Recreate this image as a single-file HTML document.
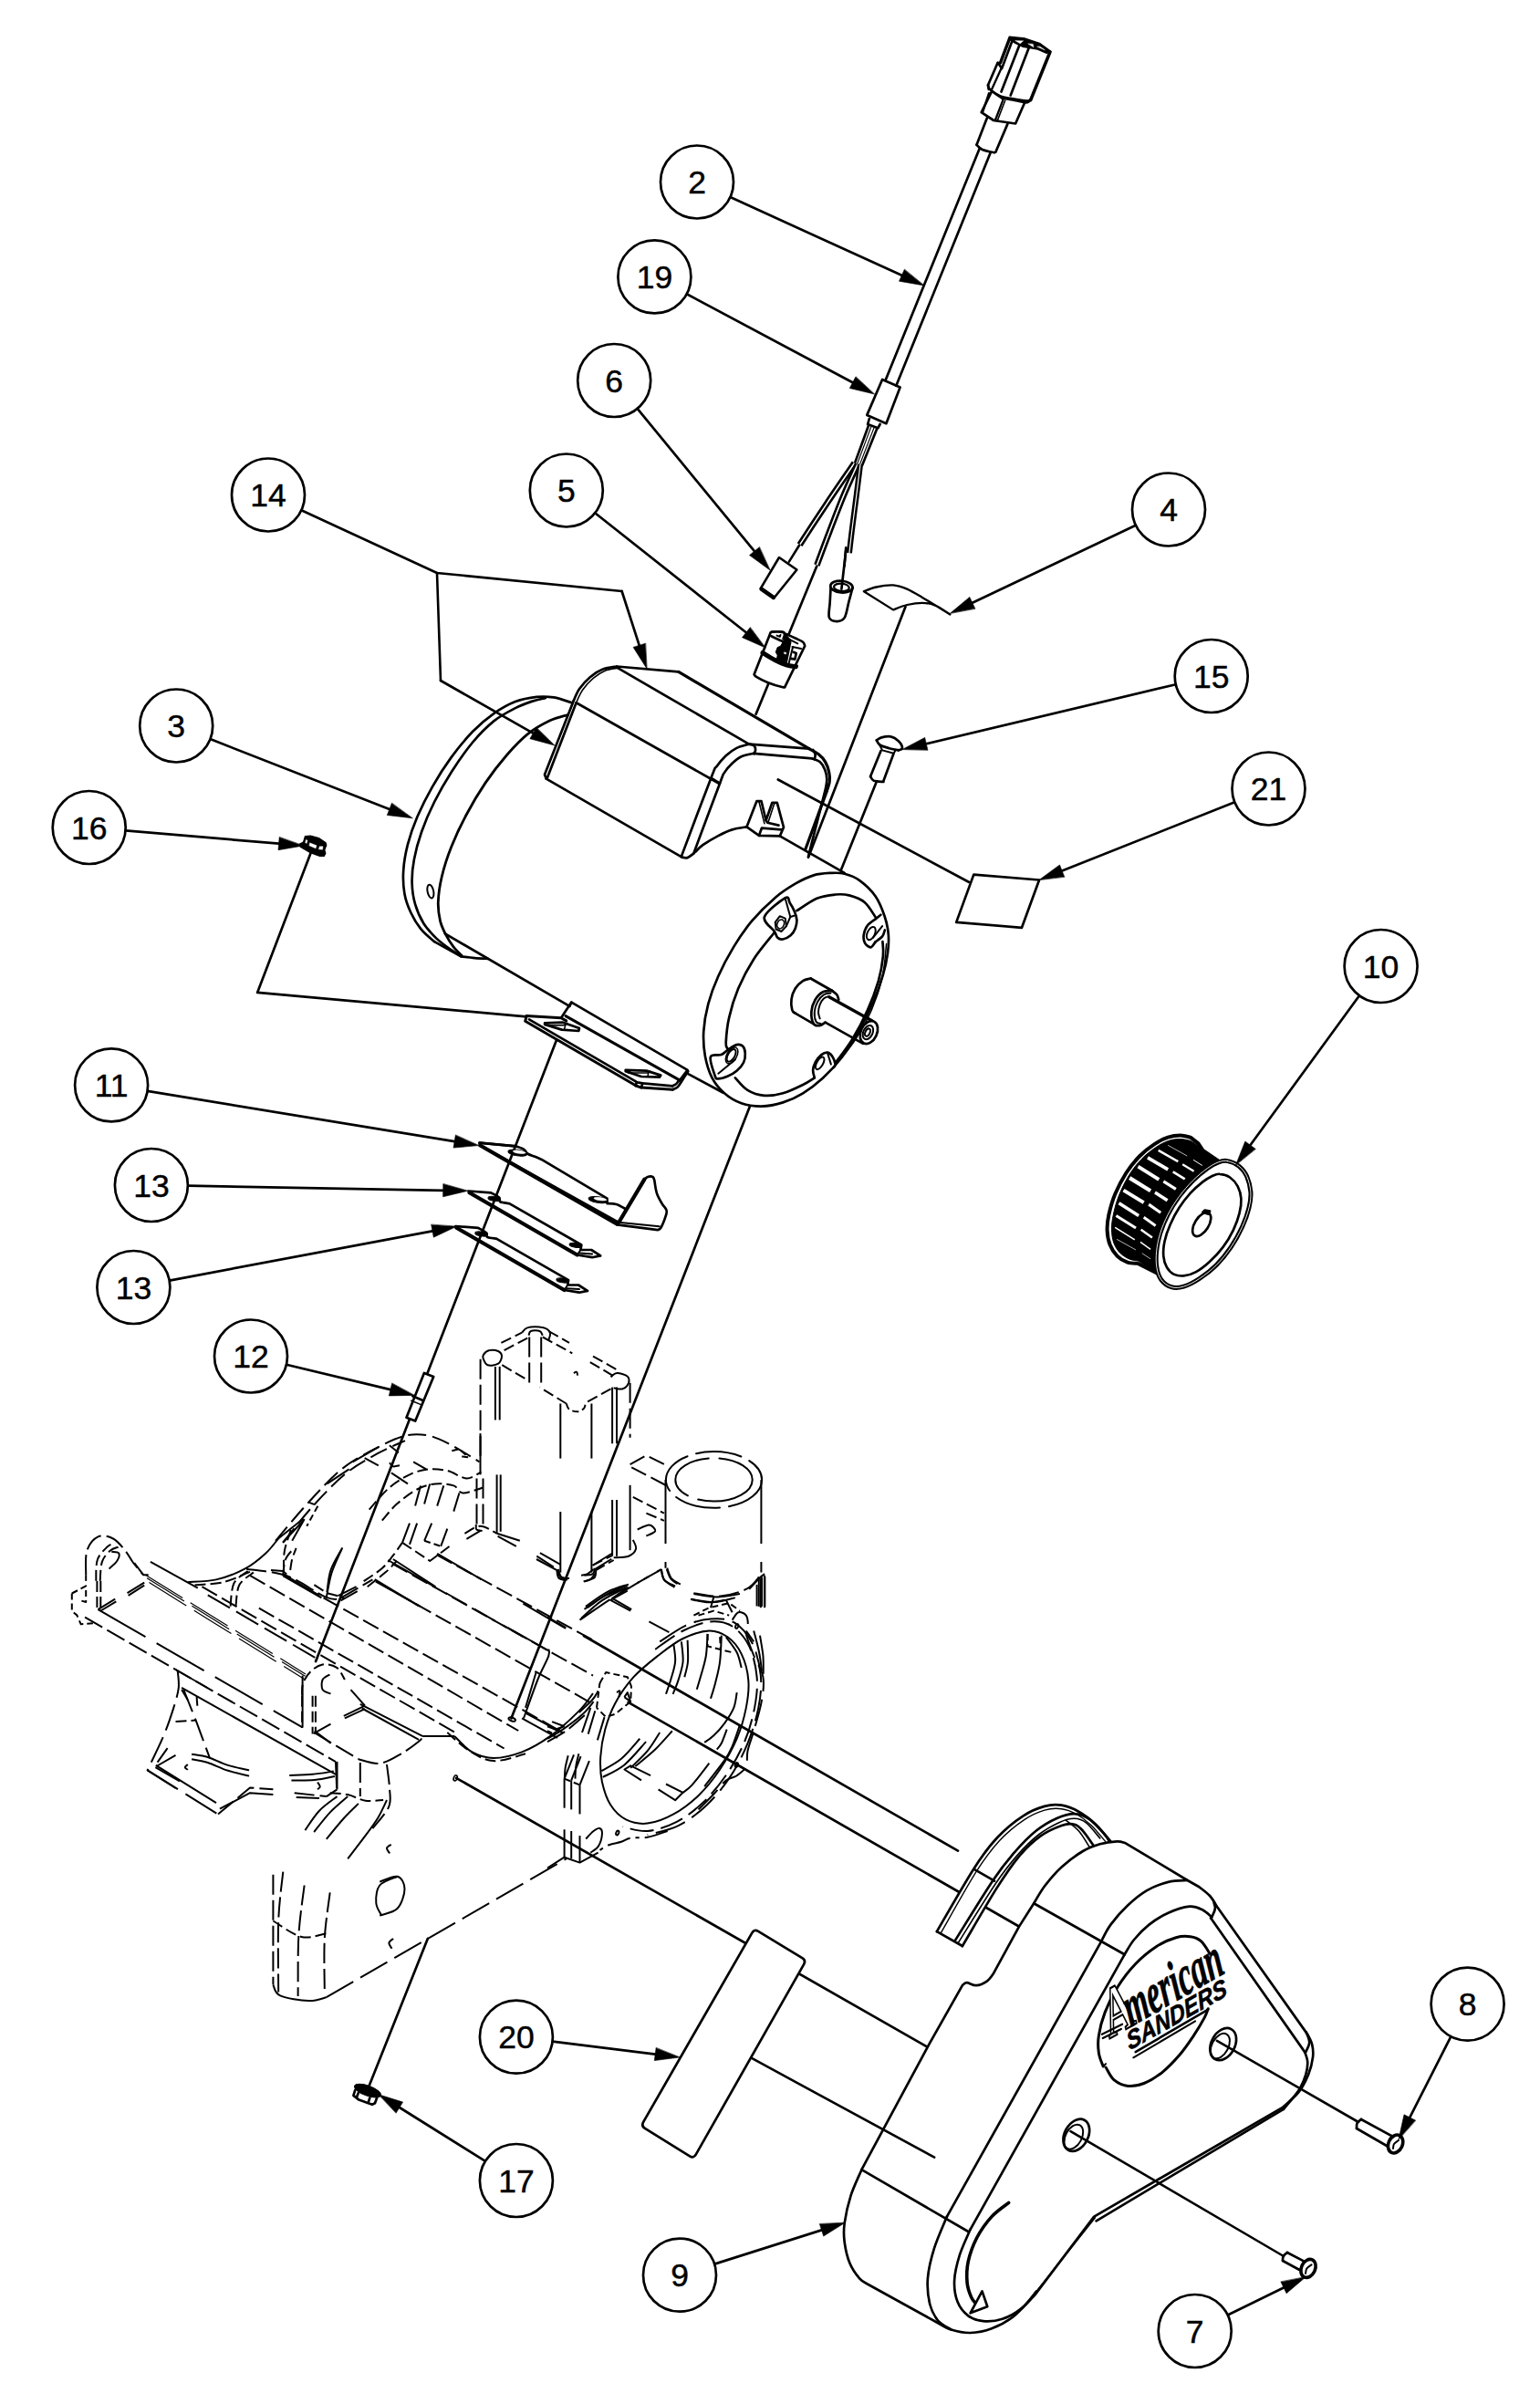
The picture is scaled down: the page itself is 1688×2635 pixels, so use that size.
<!DOCTYPE html>
<html><head><meta charset="utf-8"><title>Parts diagram</title>
<style>html,body{margin:0;padding:0;background:#fff}svg{display:block}text{font-family:"Liberation Sans",sans-serif;fill:#000;stroke:#000;stroke-width:0.45px}path,ellipse,circle{stroke-linecap:round;stroke-linejoin:round}</style></head>
<body>
<svg width="1688" height="2635" viewBox="0 0 1688 2635">
<rect width="1688" height="2635" fill="#fff"/>
<path d="M895.4 620.3 L828.6 782.7" fill="none" stroke="#000" stroke-width="2.7"/>
<path d="M992.5 665 L886 939.7" fill="none" stroke="#000" stroke-width="2.7"/>
<path d="M960.3 857.9 L921.5 954.4" fill="none" stroke="#000" stroke-width="2.7"/>
<path d="M821.9 1212.7 L560.4 1883.4" fill="none" stroke="#000" stroke-width="2.7"/>
<path d="M610 1140 L346.1 1821" fill="none" stroke="#000" stroke-width="2.7"/>
<path d="M340.3 935.7 L282.1 1087.9 L577.1 1114.3" fill="none" stroke="#000" stroke-width="2.7"/>
<path d="M852.8 854.5 L1061.8 966.8" fill="none" stroke="#000" stroke-width="2.7"/>
<path d="M639.9 1793 L1050 2028.7" fill="none" stroke="#000" stroke-width="2.7"/>
<path d="M688.6 1865.8 L1117.7 2112" fill="none" stroke="#000" stroke-width="2.7"/>
<path d="M500 1948.8 L1016.4 2243.6" fill="none" stroke="#000" stroke-width="2.7"/>
<path d="M468.8 2125 L403.4 2289.3" fill="none" stroke="#000" stroke-width="2.7"/>
<path d="M1106.4 40.3 L1123.5 42.1 L1140.1 47.8 L1151.8 56.4 L1147.2 58.2 L1137.5 54.1 L1121.4 51.2 L1112.1 46.8 L1107.1 43.7Z" fill="#000" stroke="#000" stroke-width="1.5"/>
<path d="M1113.1 44.7 L1118.3 47.8 L1121.4 44.9Z" fill="#fff" stroke="#fff" stroke-width="0.5"/>
<path d="M1127.1 48.1 L1132.9 51.7 L1132.3 48.6Z" fill="#fff" stroke="#fff" stroke-width="0.5"/>
<path d="M1137 51.2 L1145.3 54.8 L1140.1 51.2Z" fill="#fff" stroke="#fff" stroke-width="0.5"/>
<path d="M1106.7 41.8 L1096.5 68.8" fill="none" stroke="#000" stroke-width="3.4"/>
<path d="M1109 46 L1098.1 75.1 L1093.9 68.8" fill="none" stroke="#000" stroke-width="2.7"/>
<path d="M1151 56.9 L1129.7 109.6" fill="none" stroke="#000" stroke-width="3.6"/>
<path d="M1093.6 68.8 L1083 93.2 L1083.8 97.9" fill="none" stroke="#000" stroke-width="2.7"/>
<path d="M1097.5 75.1 L1086.6 99" fill="none" stroke="#000" stroke-width="2.3"/>
<path d="M1083 93.2 C1083.3 94.1 1082.8 96.1 1085.1 98.1 C1087.3 100.2 1092.5 103.7 1096.5 105.4 C1100.5 107.1 1104.1 107.2 1109 108.1 C1113.8 109 1122.1 110.4 1125.6 110.6 C1129.1 110.8 1129.2 109.4 1129.9 109.1" fill="none" stroke="#000" stroke-width="2.7"/>
<path d="M1086.9 99.5 C1088.7 100.7 1093.7 105.4 1097.5 107.1 C1101.4 108.7 1105.6 108.7 1110 109.6 C1114.4 110.5 1121 112.2 1124 112.5 C1127.1 112.7 1127.5 111.4 1128.2 111.2" fill="none" stroke="#000" stroke-width="2.3"/>
<path d="M1117.5 49.3 L1097.5 100.5" fill="none" stroke="#000" stroke-width="2.7"/>
<path d="M1127.7 52.4 L1107.7 104.4" fill="none" stroke="#000" stroke-width="2.7"/>
<path d="M1086.9 100.5 L1075.7 123.1 L1089.2 132 L1113.1 135.5 L1122.7 113.5" fill="none" stroke="#000" stroke-width="2.7"/>
<path d="M1084 102.1 L1077.3 122.3" fill="none" stroke="#000" stroke-width="2.3"/>
<path d="M1099.4 109.6 L1090.8 132" fill="none" stroke="#000" stroke-width="2.3"/>
<path d="M1101.7 110.2 L1093.2 132.4" fill="none" stroke="#000" stroke-width="1.6"/>
<path d="M1097.5 107.1 L1099.4 109.6" fill="none" stroke="#000" stroke-width="1.6"/>
<path d="M1081.9 129.3 L1070.5 158.7" fill="none" stroke="#000" stroke-width="2.7"/>
<path d="M1070.5 158.7 C1071.6 159.6 1073.5 162.5 1076.8 163.9 C1080 165.3 1087.8 166.8 1090.1 167.3" fill="none" stroke="#000" stroke-width="2.7"/>
<path d="M1104.4 135.9 L1091.3 166.7" fill="none" stroke="#000" stroke-width="2.7"/>
<path d="M1073.6 162.9 L970.5 416.9" fill="none" stroke="#000" stroke-width="2.7"/>
<path d="M1085.6 167.5 L982.3 422.8" fill="none" stroke="#000" stroke-width="2.7"/>
<path d="M967.1 416 L986.6 424.5 L971.4 464.2 L950.3 454.9Z" fill="none" stroke="#000" stroke-width="2.7"/>
<path d="M952.8 459.1 L951.1 465 L962.4 469.2 L964.6 465" fill="none" stroke="#000" stroke-width="2.7"/>
<path d="M951.9 466.7 L936.8 508.1" fill="none" stroke="#000" stroke-width="2.7"/>
<path d="M961.2 470.1 L945.2 509.7" fill="none" stroke="#000" stroke-width="2.7"/>
<path d="M954.8 467.9 L939.5 508.9" fill="none" stroke="#000" stroke-width="1.2"/>
<path d="M958 468.9 L942.3 509.4" fill="none" stroke="#000" stroke-width="1.2"/>
<path d="M936.6 507.5 C931.6 514.9 916.5 536.6 906.5 551.6 C896.5 566.5 881.5 589.5 876.6 597.1" fill="none" stroke="#000" stroke-width="6.8" style="stroke-linecap:butt"/>
<path d="M936.6 507.5 C931.6 514.9 916.5 536.6 906.5 551.6 C896.5 566.5 881.5 589.5 876.6 597.1" fill="none" stroke="#fff" stroke-width="1.6" style="stroke-linecap:butt"/>
<path d="M876.2 597.5 L864.9 615.6" fill="none" stroke="#000" stroke-width="2.6"/>
<path d="M940 508.8 C937.5 514.5 930 530.4 924.9 542.6 C919.8 554.8 914.3 569.4 909.4 582.2 C904.4 595 897.7 613.3 895.4 619.5" fill="none" stroke="#000" stroke-width="6.8" style="stroke-linecap:butt"/>
<path d="M940 508.8 C937.5 514.5 930 530.4 924.9 542.6 C919.8 554.8 914.3 569.4 909.4 582.2 C904.4 595 897.7 613.3 895.4 619.5" fill="none" stroke="#fff" stroke-width="1.6" style="stroke-linecap:butt"/>
<path d="M943 508.8 C942.3 514.4 940.3 531 938.9 541.9 C937.5 552.9 936 563.7 934.7 574.4 C933.3 585.1 931.5 600.9 930.9 606.2" fill="none" stroke="#000" stroke-width="6.2" style="stroke-linecap:butt"/>
<path d="M943 508.8 C942.3 514.4 940.3 531 938.9 541.9 C937.5 552.9 936 563.7 934.7 574.4 C933.3 585.1 931.5 600.9 930.9 606.2" fill="none" stroke="#fff" stroke-width="1.2" style="stroke-linecap:butt"/>
<path d="M927.2 600.4 L925.6 620.5" fill="none" stroke="#000" stroke-width="2.6"/>
<path d="M927.5 600.9 L922.4 645.6" fill="none" stroke="#000" stroke-width="2.7"/>
<path d="M854 611 L873.4 624.5 L848.1 655.8 L833.8 644.8Z" fill="#fff" stroke="#000" stroke-width="2.6"/>
<path d="M834.6 645.6 L847.8 654.9" fill="none" stroke="#000" stroke-width="4.5"/>
<ellipse cx="922.4" cy="643.1" rx="12.2" ry="6.4" fill="none" stroke="#000" stroke-width="2.7" transform="rotate(5 922.4 643.1)"/>
<ellipse cx="922.4" cy="643.8" rx="8.4" ry="4.2" fill="none" stroke="#000" stroke-width="2.3" transform="rotate(5 922.4 643.8)"/>
<path d="M910.6 644 C910.4 646.6 910 654.5 909.7 660 C909.5 665.5 907.6 673.4 908.9 676.9 C910.2 680.4 914.5 681.1 917.3 681.1 C920.2 681.1 923.6 680.4 925.8 676.9 C927.9 673.4 928.9 665.5 930.3 660 C931.8 654.5 933.9 646.6 934.6 644" fill="none" stroke="#000" stroke-width="2.7"/>
<path d="M946.9 648.2 C949.1 647.4 955 644.6 960.4 643.5 C965.7 642.3 973.3 641.1 979 641.4 C984.6 641.8 988.8 643.4 994.2 645.6 C999.5 647.9 1003.2 650.3 1011 654.9 C1018.9 659.6 1036.4 670.4 1041.4 673.5 L1041.4 673.5 C1038.6 671.8 1029.6 665.5 1024.5 663.4 C1019.5 661.3 1016.1 660.9 1011 660.8 C1006 660.8 999.5 661.8 994.2 663 C988.8 664.3 981.5 667.5 979 668.4 L946.9 648.2Z" fill="#fff" stroke="#000" stroke-width="2.3"/>
<path d="M626.9 770.3 C623.6 769.3 613.4 765.5 607 764.4 C600.6 763.4 595.3 763.2 588.3 763.9 C581.3 764.7 572.7 766.1 564.9 769.1 C557.1 772.1 549.4 776.5 541.6 781.9 C533.8 787.4 526 793.8 518.2 801.8 C510.4 809.8 502.2 819.7 494.8 829.9 C487.4 840 480 851.7 473.8 862.6 C467.5 873.5 461.9 884.8 457.4 895.3 C452.9 905.8 449.4 916 446.9 925.7 C444.4 935.5 442.8 944.8 442.2 953.8 C441.6 962.7 442 971.7 443.4 979.5 C444.7 987.3 447.3 993.9 450.4 1000.5 C453.5 1007.1 457.8 1014 462.1 1019.2 C466.4 1024.5 473.8 1029.9 476.1 1032.1" fill="none" stroke="#000" stroke-width="2.7"/>
<path d="M476.1 1032.1 L505.3 1048.4" fill="none" stroke="#000" stroke-width="2.7"/>
<path d="M505.3 1048.4 C507.9 1048.7 515.6 1049.7 520.5 1050.1 C525.4 1050.5 532.2 1050.7 534.5 1050.8" fill="none" stroke="#000" stroke-width="2.7"/>
<path d="M597.7 765.1 C595.3 765.7 589.1 766.8 583.6 768.6 C578.2 770.5 571.9 772.5 564.9 776.1 C557.9 779.7 549.4 783.9 541.6 790.1 C533.8 796.4 526 804.2 518.2 813.5 C510.4 822.9 501.8 835.3 494.8 846.2 C487.8 857.1 481.6 868.1 476.1 879 C470.6 889.9 465.8 901.2 462.1 911.7 C458.4 922.2 455.6 932.7 453.9 942.1 C452.1 951.4 451.4 959.6 451.6 967.8 C451.8 976 452.9 983.8 455.1 991.2 C457.2 998.6 460.5 1006 464.4 1012.2 C468.3 1018.4 473.4 1023.7 478.4 1028.6 C483.5 1033.4 490.3 1038.2 494.8 1041.4 C499.3 1044.6 503.6 1046.7 505.3 1047.7" fill="none" stroke="#000" stroke-width="2.7"/>
<path d="M622.2 783.6 C618.9 784.7 609.5 786.7 602.3 790.1 C595.1 793.6 586.8 797.9 579 804.2 C571.2 810.4 563.4 818.6 555.6 827.5 C547.8 836.5 539.6 847 532.2 857.9 C524.8 868.8 517.4 881.3 511.2 893 C504.9 904.7 499.3 916.8 494.8 928.1 C490.3 939.4 486.7 950.6 484.3 960.8 C481.9 970.9 480.6 980.6 480.3 988.8 C480 997 481.2 1003.8 482.6 1009.9 C484.1 1015.9 486.5 1020.4 489 1025.1 C491.4 1029.7 494.3 1034.2 497.1 1037.9 C500 1041.6 504.5 1045.7 506 1047.3" fill="none" stroke="#000" stroke-width="2.8"/>
<ellipse cx="471.9" cy="977.1" rx="3.3" ry="7.5" fill="none" stroke="#000" stroke-width="2" transform="rotate(-12 471.9 977.1)"/>
<path d="M487.8 1023.4 L624.3 1102.9" fill="none" stroke="#000" stroke-width="2.7"/>
<path d="M754.3 1177.1 L792.3 1197.5" fill="none" stroke="#000" stroke-width="2.7"/>
<path d="M854.8 916.4 L925.7 956.9" fill="none" stroke="#000" stroke-width="2.7"/>
<path d="M628.8 767.9 L597 849 L598.8 853.7" fill="none" stroke="#000" stroke-width="2.7"/>
<path d="M631.6 770.3 L600 852.3" fill="none" stroke="#000" stroke-width="2.7"/>
<path d="M628.8 767.9 C629.8 765.8 632.1 759.4 635.1 755.1 C638.1 750.8 642.5 745.8 646.8 742.2 C651 738.6 655.9 735.5 660.8 733.6 C665.6 731.6 673.4 731 676 730.5" fill="none" stroke="#000" stroke-width="2.7"/>
<path d="M631.6 770.3 C632.7 767.9 635.5 760.7 638.6 756.2 C641.7 751.8 646.2 746.9 650.3 743.4 C654.4 739.9 658.6 737.1 663.1 735.2 C667.6 733.3 674.8 732.7 677.1 732.2" fill="none" stroke="#000" stroke-width="1.6"/>
<path d="M676 730.5 L743.8 736.4" fill="none" stroke="#000" stroke-width="2.7"/>
<path d="M743.8 736.4 L886.9 820.7" fill="none" stroke="#000" stroke-width="3.2"/>
<path d="M886.9 820.7 C888.6 821.7 894.1 824.2 897 826.6 C900 829 902.6 831.7 904.6 835.1 C906.6 838.4 908.1 843.2 908.8 846.9 C909.6 850.5 909.6 853.6 909.2 857 C908.7 860.4 906.8 865.5 906.3 867.1" fill="none" stroke="#000" stroke-width="3.2"/>
<path d="M906.3 867.1 L882.7 931.3" fill="none" stroke="#000" stroke-width="3.2"/>
<path d="M677.1 732.2 L821 815.6" fill="none" stroke="#000" stroke-width="2.7"/>
<path d="M631.6 770.3 L788.1 858.7" fill="none" stroke="#000" stroke-width="2.7"/>
<path d="M598.8 853.7 L747.6 939.7" fill="none" stroke="#000" stroke-width="2.7"/>
<path d="M746.8 938.9 C752.2 924.4 773.2 868.4 779.7 851.9 C786.1 835.5 782.9 844.1 785.6 840.1 C788.3 836.2 792.1 831.7 795.7 828.3 C799.4 824.9 803.3 822 807.5 819.9 C811.8 817.8 818.8 816.4 821 815.6" fill="none" stroke="#000" stroke-width="2.7"/>
<path d="M821 815.6 L886.9 820.7" fill="none" stroke="#000" stroke-width="2.7"/>
<path d="M760.3 935.5 C765 922.7 783.3 873.5 789 858.7 C794.6 843.9 791.8 850.5 794 846.9 C796.3 843.2 799.4 839.7 802.5 836.8 C805.6 833.8 808.7 831 812.6 829.2 C816.5 827.3 823.9 826.3 826.1 825.8" fill="none" stroke="#000" stroke-width="2.7"/>
<path d="M826.1 825.8 L890.3 831.4" fill="none" stroke="#000" stroke-width="2.7"/>
<path d="M890.3 831.4 C891.7 832 896.4 833 898.7 835.1 C901 837.1 902.8 840.4 904.1 843.5 C905.4 846.6 906.1 850.3 906.3 853.6 C906.5 857 905.3 862.1 905.1 863.8" fill="none" stroke="#000" stroke-width="2.7"/>
<path d="M905.1 863.8 L886 938.9" fill="none" stroke="#000" stroke-width="2.7"/>
<path d="M821 815.6 C821.9 815.9 825.3 816.3 826.4 817.3 C827.6 818.4 828.1 820.4 828.1 821.9 C828.1 823.4 826.7 825.6 826.4 826.3" fill="none" stroke="#000" stroke-width="2.7"/>
<path d="M891.1 821.9 C891.5 822.7 893.4 825.2 893.6 827 C893.9 828.7 892.9 831.6 892.8 832.5" fill="none" stroke="#000" stroke-width="2.7"/>
<path d="M779.7 852.8 L789 858.7" fill="none" stroke="#000" stroke-width="2.7"/>
<path d="M747.6 939.7 C748.6 939.8 751.4 940.8 753.5 940.1 C755.6 939.4 757.4 937.8 760.3 935.5 C763.1 933.2 765.9 929.5 770.4 926.2 C774.9 923 781.9 918.9 787.3 916.1 C792.6 913.3 797.3 911 802.5 909.4 C807.7 907.7 815.8 906.8 818.5 906.3" fill="none" stroke="#000" stroke-width="2.7"/>
<path d="M818.5 906.3 L832 915.8 L854.8 916.4 L859 906.8 L851.8 879.8 L846.4 879.8 L839.6 899.2 L834.5 878.1 L829.5 878.1Z" fill="none" stroke="#000" stroke-width="2.7"/>
<path d="M832 915.8 L834.9 907.7 L856.8 909.4" fill="none" stroke="#000" stroke-width="2.7"/>
<path d="M839.6 899.2 L841.3 901.8 L853.5 904.6" fill="none" stroke="#000" stroke-width="2.7"/>
<path d="M832 879 L837.9 902.6" fill="none" stroke="#000" stroke-width="1.6"/>
<path d="M848.9 880.3 L842.1 900.9" fill="none" stroke="#000" stroke-width="1.6"/>
<path d="M910.5 956.9 C904.9 957.2 898.4 957.4 891.9 959.4 C885.5 961.4 878.7 964.6 871.7 968.7 C864.7 972.8 857.6 977.1 849.7 983.9 C841.9 990.6 832 1000.2 824.4 1009.2 C816.8 1018.2 810.3 1027.8 804.2 1037.9 C798 1048.1 791.9 1059.6 787.3 1070 C782.6 1080.4 779 1090.3 776.3 1100.4 C773.6 1110.5 771.8 1121.2 771.2 1130.8 C770.7 1140.3 771.4 1149.4 772.9 1157.8 C774.5 1166.2 777 1174.7 780.5 1181.4 C784 1188.2 788.7 1193.7 794 1198.3 C799.4 1203 805.8 1206.9 812.6 1209.3 C819.4 1211.7 826.9 1212.8 834.5 1212.7 C842.1 1212.5 850.6 1210.8 858.2 1208.4 C865.8 1206 872.8 1202.8 880.1 1198.3 C887.4 1193.8 895 1187.9 902.1 1181.4 C909.1 1175 915.9 1167.9 922.3 1159.5 C928.8 1151 935 1141.2 940.9 1130.8 C946.8 1120.4 953.3 1107.4 957.8 1097 C962.3 1086.6 965.4 1077 967.9 1068.3 C970.5 1059.6 972 1052 973 1044.7 C974 1037.4 974.4 1031.2 973.8 1024.4 C973.3 1017.7 972 1011.2 969.6 1004.2 C967.2 997.1 964 988.7 959.5 982.2 C955 975.7 948.2 969.4 942.6 965.3 C937 961.2 931.1 959.1 925.7 957.7 C920.4 956.3 916.1 956.6 910.5 956.9Z" fill="#fff" stroke="#000" stroke-width="2.7"/>
<path d="M959.5 1005 C957.5 1002.3 952.4 992.9 947.7 989 C942.9 985 936.1 982.8 930.8 981.4 C925.4 980 921.5 980 915.6 980.5 C909.7 981.1 902.4 981.8 895.3 984.7 C888.3 987.7 877 996 873.4 998.2" fill="none" stroke="#000" stroke-width="2.7"/>
<path d="M849.7 1021 C845.8 1026.1 832.9 1041 826.1 1051.4 C819.4 1061.8 813.7 1072.8 809.2 1083.5 C804.7 1094.2 801.3 1105.7 799.1 1115.6 C796.8 1125.4 796 1137 795.7 1142.6 C795.4 1148.2 797.1 1148.2 797.4 1149.4" fill="none" stroke="#000" stroke-width="2.7"/>
<path d="M805.8 1181.4 C808.1 1183.7 814 1191.7 819.4 1194.9 C824.7 1198.2 831.5 1200.3 837.9 1200.8 C844.4 1201.4 851.1 1200.3 858.2 1198.3 C865.2 1196.3 874.4 1191.8 880.1 1189 C885.9 1186.2 890.7 1182.7 892.8 1181.4" fill="none" stroke="#000" stroke-width="2.7"/>
<path d="M915.6 1165.4 C918.7 1161 928.2 1148.9 934.2 1139.2 C940.1 1129.5 946.3 1117.8 951 1107.1 C955.8 1096.5 960 1084.9 962.9 1075.1 C965.7 1065.2 967.2 1055.2 967.9 1048.1 C968.7 1040.9 967.5 1034.7 967.4 1032" fill="none" stroke="#000" stroke-width="2.7"/>
<path d="M971.6 1034.5 C970.9 1040.7 969.8 1059.6 967.1 1071.7 C964.3 1083.8 960.3 1095.6 955.3 1107.1 C950.2 1118.7 943 1131.2 936.7 1140.9 C930.4 1150.6 920.5 1161.3 917.3 1165.4" fill="none" stroke="#000" stroke-width="1.5"/>
<path d="M837.9 1005 C839.9 998.9 856.1 986.8 860.7 984.2 C865.4 981.7 864.1 987.3 865.8 989.8 C867.5 992.3 869.6 996 870.8 999.1 C872.1 1002.2 873.2 1005.3 873.4 1008.4 C873.5 1011.5 872.8 1014.8 871.7 1017.7 C870.6 1020.5 868.9 1023.3 866.6 1025.3 C864.4 1027.2 860.6 1029.1 858.2 1029.5 C855.8 1029.9 853.8 1029.2 852.3 1027.8 C850.7 1026.4 851.3 1024.8 848.9 1021 C846.5 1017.2 836 1011.1 837.9 1005Z" fill="#fff" stroke="#000" stroke-width="2.7"/>
<path d="M849.7 1010.9 L854.8 1004.2 L860.7 1006.7 L861.9 1015.1 L856.5 1021 L850.6 1018.5Z" fill="none" stroke="#000" stroke-width="2"/>
<path d="M860.7 984.7 L866.3 1005 L861.9 1015.1" fill="none" stroke="#000" stroke-width="2"/>
<path d="M866.3 1005 L870.3 1003.8" fill="none" stroke="#000" stroke-width="2"/>
<ellipse cx="855.6" cy="1012.9" rx="3.7" ry="5.1" fill="none" stroke="#000" stroke-width="1.6" transform="rotate(20 855.6 1012.9)"/>
<path d="M959.5 1007.5 C958.1 1008.7 953.1 1011.5 951 1014.3 C948.9 1017.1 947.3 1021.2 946.8 1024.4 C946.3 1027.7 946.7 1031.4 948 1033.7 C949.3 1036 952.5 1038.5 954.4 1038.3 C956.3 1038.1 958.6 1033.5 959.5 1032.5" fill="none" stroke="#000" stroke-width="2.7"/>
<path d="M959.5 1007.5 L965.4 1002.8" fill="none" stroke="#000" stroke-width="2.7"/>
<path d="M959.5 1032.5 C960.7 1031.5 965.3 1028.6 967.1 1026.4 C968.8 1024.2 969.5 1020.5 969.9 1019.4" fill="none" stroke="#000" stroke-width="2.7"/>
<ellipse cx="954.8" cy="1023.1" rx="4.1" ry="7.6" fill="none" stroke="#000" stroke-width="2" transform="rotate(25 954.8 1023.1)"/>
<path d="M956.9 1027.8 L967.1 1015.1" fill="none" stroke="#000" stroke-width="2"/>
<path d="M778.8 1158.6 C780 1154.7 787.6 1157.4 790.6 1156.1 C793.7 1154.8 794.6 1152.9 797.4 1151 C800.2 1149.2 804.7 1145.8 807.5 1145.1 C810.3 1144.4 812.7 1145.3 814.3 1146.8 C815.8 1148.4 816.7 1151.5 816.8 1154.4 C817 1157.4 816.7 1161.3 815.1 1164.5 C813.6 1167.8 810.5 1171.3 807.5 1173.8 C804.6 1176.4 800.8 1178.3 797.4 1179.7 C794 1181.1 789.5 1182.3 787.3 1182.3 C785 1182.3 785.3 1183.7 783.9 1179.7 C782.5 1175.8 777.7 1162.6 778.8 1158.6Z" fill="#fff" stroke="#000" stroke-width="2.7"/>
<ellipse cx="801.6" cy="1156.9" rx="3.7" ry="7.6" fill="none" stroke="#000" stroke-width="2" transform="rotate(30 801.6 1156.9)"/>
<ellipse cx="802.1" cy="1156.9" rx="5.4" ry="9.8" fill="none" stroke="#000" stroke-width="1.6" transform="rotate(30 802.1 1156.9)"/>
<path d="M787.3 1176.7 L805.8 1161.5" fill="none" stroke="#000" stroke-width="2"/>
<path d="M892.8 1181.4 C892.5 1180 891 1175.8 891.1 1173 C891.2 1170.2 892.1 1167.4 893.6 1164.5 C895.2 1161.7 898.1 1157.9 900.4 1156.1 C902.6 1154.3 905.2 1153.3 907.1 1153.6 C909.1 1153.9 910.8 1155.7 912.2 1157.8 C913.6 1159.9 915.3 1164.2 915.6 1166.2 C915.9 1168.3 914.2 1169.3 913.9 1169.9" fill="none" stroke="#000" stroke-width="2.7"/>
<ellipse cx="898.7" cy="1165.4" rx="3.4" ry="7.6" fill="none" stroke="#000" stroke-width="2" transform="rotate(30 898.7 1165.4)"/>
<path d="M907.1 1154.4 L910.9 1166.6" fill="none" stroke="#000" stroke-width="2"/>
<path d="M888.6 1072.5 C887.2 1073 882.9 1073.2 880.1 1075.1 C877.3 1076.9 873.8 1080.1 871.7 1083.5 C869.6 1086.9 868 1091.4 867.5 1095.3 C866.9 1099.3 867.6 1104.6 868.3 1107.1 C869 1109.7 871.1 1110 871.7 1110.5" fill="none" stroke="#000" stroke-width="2.7"/>
<path d="M888.6 1072.5 L912.2 1086" fill="none" stroke="#000" stroke-width="3"/>
<path d="M870 1109.7 L891.9 1122.3" fill="none" stroke="#000" stroke-width="2.7"/>
<path d="M912.2 1086 C910.5 1086.2 905.2 1085.6 902.1 1087.2 C899 1088.8 895.7 1092.1 893.6 1095.7 C891.5 1099.3 889.7 1104.4 889.4 1108.8 C889.1 1113.3 890.4 1119.8 891.9 1122.3 C893.5 1124.9 896.6 1124.3 898.7 1124 C900.8 1123.7 903.6 1121.2 904.6 1120.6" fill="none" stroke="#000" stroke-width="2.7"/>
<path d="M910.5 1088.6 C909.3 1088.9 905.3 1088.7 902.9 1090.3 C900.5 1091.8 897.9 1094.8 896.2 1097.9 C894.5 1101 893.1 1105.2 892.8 1108.8 C892.5 1112.5 893.4 1117.6 894.5 1119.8 C895.6 1122 898.7 1121.6 899.5 1122" fill="none" stroke="#000" stroke-width="2"/>
<path d="M908.8 1091.9 C907.8 1092.4 904.6 1092.9 902.9 1094.5 C901.2 1096 899.7 1098.7 898.7 1101.2 C897.7 1103.8 897 1107.1 897 1109.7 C897 1112.2 898.4 1115.3 898.7 1116.4" fill="none" stroke="#000" stroke-width="2"/>
<path d="M912.2 1086 C913.1 1086.7 916.1 1088.7 917.3 1090.3 C918.5 1091.9 919 1094.8 919.3 1095.7" fill="none" stroke="#000" stroke-width="2.7"/>
<path d="M908.8 1092.8 L956.1 1119" fill="none" stroke="#000" stroke-width="3.4"/>
<path d="M904.6 1120.6 L946 1143.9" fill="none" stroke="#000" stroke-width="2.7"/>
<ellipse cx="952.4" cy="1131.6" rx="8.8" ry="13.2" fill="#fff" stroke="#000" stroke-width="2.7" transform="rotate(25 952.4 1131.6)"/>
<ellipse cx="951.4" cy="1131.6" rx="5.1" ry="8.1" fill="none" stroke="#000" stroke-width="2" transform="rotate(25 951.4 1131.6)"/>
<ellipse cx="951" cy="1131.6" rx="2.5" ry="4.4" fill="none" stroke="#000" stroke-width="2" transform="rotate(25 951 1131.6)"/>
<path d="M624.3 1102.9 L626.4 1098.6 L753.6 1172.9 L744.3 1185" fill="none" stroke="#000" stroke-width="2.7"/>
<path d="M626.4 1098.6 L615 1115.7" fill="none" stroke="#000" stroke-width="2.7"/>
<path d="M620 1113.6 L744.3 1183.6" fill="none" stroke="#000" stroke-width="3"/>
<path d="M577.1 1113.6 L615 1115.7 L620.7 1118.9" fill="none" stroke="#000" stroke-width="3"/>
<path d="M577.1 1113.6 L575.7 1119.3 L697.1 1190 L702.9 1192.1 L737.1 1194.3" fill="none" stroke="#000" stroke-width="3"/>
<path d="M737.1 1194.3 C738.1 1193.8 741 1193.3 742.9 1191.4 C744.8 1189.5 746.7 1185.7 748.6 1182.9 C750.5 1180 753.3 1175.7 754.3 1174.3" fill="none" stroke="#000" stroke-width="2.7"/>
<path d="M580 1117.4 L698.6 1186.4 L704.3 1187.4 L737.1 1190.3" fill="none" stroke="#000" stroke-width="2.7"/>
<path d="M737.1 1190.3 C737.9 1189.9 740.2 1189 741.4 1187.9 C742.6 1186.7 743.8 1184.3 744.3 1183.6" fill="none" stroke="#000" stroke-width="2.7"/>
<path d="M697.9 1186.4 L696.4 1190" fill="none" stroke="#000" stroke-width="2.7"/>
<path d="M704.3 1187.4 L702.9 1192.1" fill="none" stroke="#000" stroke-width="2.7"/>
<path d="M597.1 1121.4 L617.1 1120.7 L635 1127.1 L634.3 1130 L615.7 1128.6 L597.1 1122.9Z" fill="none" stroke="#000" stroke-width="2.7"/>
<path d="M600 1124 L618.6 1123.6 L621.4 1121.4" fill="none" stroke="#000" stroke-width="1.6"/>
<path d="M618.6 1127.9 L620 1122.9" fill="none" stroke="#000" stroke-width="1.6"/>
<path d="M685.7 1172.9 L708.6 1173.6 L724.3 1178.6 L722.9 1180.7 L702.9 1180 L685.7 1174.3Z" fill="none" stroke="#000" stroke-width="2.7"/>
<path d="M688.6 1176 L710 1176 L712.9 1174.3" fill="none" stroke="#000" stroke-width="1.6"/>
<path d="M710 1180 L710.7 1176" fill="none" stroke="#000" stroke-width="1.6"/>
<path d="M525.5 1252.7 L565.5 1256.4" fill="none" stroke="#000" stroke-width="2.7"/>
<path d="M525.5 1252.7 L565.5 1256.4 L565.5 1256.4 C567 1257 572.4 1258.6 574.5 1260 C576.7 1261.4 576.2 1263.2 578.2 1264.5 C580.2 1265.8 583.8 1266.8 586.4 1267.8 C588.9 1268.9 592.4 1270.4 593.6 1270.9 L665.5 1313.6 L665.5 1319.1 L665.5 1319.1 C667.1 1319.2 672 1318.9 675.5 1320 C678.9 1321.1 684.5 1324.5 686.4 1325.5 L678.2 1340 L526.4 1255.5Z" fill="none" stroke="#000" stroke-width="2.7"/>
<path d="M526.4 1255.5 L676.4 1341.8" fill="none" stroke="#000" stroke-width="4.2"/>
<ellipse cx="567.3" cy="1263.6" rx="10.5" ry="3.3" fill="#000" stroke="#000" stroke-width="1" transform="rotate(8 567.3 1263.6)"/>
<ellipse cx="569.1" cy="1262.7" rx="6.9" ry="1.6" fill="#fff" stroke="#fff" stroke-width="0.5" transform="rotate(8 569.1 1262.7)"/>
<ellipse cx="655.5" cy="1315.1" rx="10.5" ry="3.3" fill="#000" stroke="#000" stroke-width="1" transform="rotate(8 655.5 1315.1)"/>
<ellipse cx="657.8" cy="1314.2" rx="6.9" ry="1.6" fill="#fff" stroke="#fff" stroke-width="0.5" transform="rotate(8 657.8 1314.2)"/>
<path d="M678.2 1340 L706.4 1292.7 L706.4 1292.7 C707 1292.3 708.5 1290.5 710 1290 C711.5 1289.5 714.2 1289.4 715.5 1290 C716.7 1290.6 717 1293 717.3 1293.6 L717.3 1293.6 C717.7 1296.1 718.6 1303.9 720 1308.2 C721.4 1312.4 723.7 1316.1 725.5 1319.1 C727.2 1322.1 729.8 1324.2 730.5 1326.4 C731.3 1328.5 731 1328.6 730 1331.8 C729 1335 726.1 1342.7 724.5 1345.5 C723 1348.2 721.5 1347.7 720.9 1348.2 L676.4 1342.4Z" fill="none" stroke="#000" stroke-width="2.7"/>
<path d="M678.2 1340 L706.4 1292.7" fill="none" stroke="#000" stroke-width="4.2"/>
<path d="M680 1340 L722.7 1344.2" fill="none" stroke="#000" stroke-width="2"/>
<path d="M513.6 1305.5 L538.2 1307.3 L538.2 1307.3 C539.7 1308.2 545.6 1311.1 547.3 1312.7 C548.9 1314.4 546.4 1316.2 548.2 1317.3 C550 1318.3 556.5 1318.8 558.2 1319.1 L637.3 1364.5 L636.4 1370 L648.2 1370 L658.2 1376.4 L649.1 1378.2 L632.7 1375.5 L514.5 1307.3Z" fill="none" stroke="#000" stroke-width="2.7"/>
<path d="M514.5 1307.3 L632.7 1375.5" fill="none" stroke="#000" stroke-width="4.2"/>
<path d="M636.4 1370 L632.7 1375.5" fill="none" stroke="#000" stroke-width="2"/>
<path d="M635.5 1373.6 L649.1 1374.5" fill="none" stroke="#000" stroke-width="2"/>
<ellipse cx="541.8" cy="1314" rx="6.9" ry="2.4" fill="#000" stroke="#000" stroke-width="1" transform="rotate(8 541.8 1314)"/>
<ellipse cx="630.9" cy="1364.9" rx="6.9" ry="2.4" fill="#000" stroke="#000" stroke-width="1" transform="rotate(8 630.9 1364.9)"/>
<path d="M499.5 1344 L524 1345.8 L524 1345.8 C525.5 1346.7 531.4 1349.6 533.1 1351.3 C534.8 1352.9 532.2 1354.8 534 1355.8 C535.8 1356.9 542.3 1357.3 544 1357.6 L623.1 1403.1 L622.2 1408.5 L634 1408.5 L644 1414.9 L634.9 1416.7 L618.5 1414 L500.4 1345.8Z" fill="none" stroke="#000" stroke-width="2.7"/>
<path d="M500.4 1345.8 L618.5 1414" fill="none" stroke="#000" stroke-width="4.2"/>
<path d="M622.2 1408.5 L618.5 1414" fill="none" stroke="#000" stroke-width="2"/>
<path d="M621.3 1412.2 L634.9 1413.1" fill="none" stroke="#000" stroke-width="2"/>
<ellipse cx="527.6" cy="1352.5" rx="6.9" ry="2.4" fill="#000" stroke="#000" stroke-width="1" transform="rotate(8 527.6 1352.5)"/>
<ellipse cx="616.7" cy="1403.5" rx="6.9" ry="2.4" fill="#000" stroke="#000" stroke-width="1" transform="rotate(8 616.7 1403.5)"/>
<path d="M1304.9 1246.7 C1303 1246.3 1297.9 1244.6 1293.8 1244.6 C1289.7 1244.6 1284.9 1245.1 1280.2 1246.7 C1275.5 1248.2 1270.5 1250.7 1265.4 1254.1 C1260.2 1257.5 1254.5 1261.8 1249.4 1267 C1244.2 1272.3 1239.1 1278.5 1234.5 1285.5 C1230 1292.5 1225.4 1301.4 1222.2 1309 C1219 1316.6 1216.9 1324.6 1215.4 1331.2 C1214 1337.7 1213.4 1342.9 1213.6 1348.4 C1213.8 1354 1214.8 1359.8 1216.7 1364.5 C1218.5 1369.2 1221.5 1373.6 1224.7 1376.8 C1227.9 1380 1232.1 1382.3 1235.8 1383.6 C1239.5 1384.9 1245 1384.6 1246.9 1384.8 L1269.1 1395.9 L1335.7 1272.6 L1318.4 1260.8 L1313.5 1253.4Z" fill="#fff" stroke="#000" stroke-width="4"/>
<path d="M1304.9 1250.4 C1303 1250 1297.8 1248.5 1293.8 1248.5 C1289.8 1248.5 1285.3 1248.8 1280.8 1250.4 C1276.3 1251.9 1271.6 1254.4 1266.6 1257.8 C1261.7 1261.1 1256 1265.4 1251.2 1270.5 C1246.4 1275.5 1241.7 1281.4 1237.6 1288 C1233.5 1294.6 1229.4 1303 1226.5 1310.2 C1223.6 1317.4 1221.7 1324.9 1220.4 1331.2 C1219 1337.4 1218.4 1342.7 1218.5 1347.8 C1218.6 1353 1219.2 1357.8 1220.7 1362 C1222.2 1366.2 1224.6 1370.1 1227.4 1373.1 C1230.2 1376.1 1234.3 1378.4 1237.6 1379.9 C1241 1381.4 1245.9 1381.7 1247.5 1382 L1269.1 1395.9 L1293.8 1353.4 L1335.7 1273.2 L1318.4 1262.3 L1311.7 1254.7Z" fill="#000" stroke="#000" stroke-width="1"/>
<path d="M1280.2 1255.3 L1301.2 1267" fill="none" stroke="#fff" stroke-width="0.7" style="stroke-linecap:butt"/>
<path d="M1269.7 1260.8 L1291.3 1273.2" fill="none" stroke="#fff" stroke-width="2.5" style="stroke-linecap:butt"/>
<path d="M1258 1268.9 L1280.2 1281.8" fill="none" stroke="#fff" stroke-width="3.7" style="stroke-linecap:butt"/>
<path d="M1247.5 1278.7 L1270.3 1292.9" fill="none" stroke="#fff" stroke-width="3.9" style="stroke-linecap:butt"/>
<path d="M1238.2 1291.1 L1261.1 1305.3" fill="none" stroke="#fff" stroke-width="4.2" style="stroke-linecap:butt"/>
<path d="M1231.5 1304.6 L1253.7 1318.2" fill="none" stroke="#fff" stroke-width="3.9" style="stroke-linecap:butt"/>
<path d="M1226.5 1318.8 L1248.1 1332.4" fill="none" stroke="#fff" stroke-width="3.5" style="stroke-linecap:butt"/>
<path d="M1223.4 1332.4 L1245 1346" fill="none" stroke="#fff" stroke-width="3" style="stroke-linecap:butt"/>
<path d="M1222.2 1345.4 L1243.8 1358.9" fill="none" stroke="#fff" stroke-width="1.7" style="stroke-linecap:butt"/>
<path d="M1224.1 1358.3 L1245 1370" fill="none" stroke="#fff" stroke-width="0.7" style="stroke-linecap:butt"/>
<path d="M1308 1271.3 L1317.8 1277.5" fill="none" stroke="#fff" stroke-width="1" style="stroke-linecap:butt"/>
<path d="M1296.2 1276.3 L1308.6 1283.7" fill="none" stroke="#fff" stroke-width="2.2" style="stroke-linecap:butt"/>
<path d="M1285.7 1284.3 L1298.7 1292.3" fill="none" stroke="#fff" stroke-width="2.7" style="stroke-linecap:butt"/>
<path d="M1275.3 1294.8 L1288.8 1303.4" fill="none" stroke="#fff" stroke-width="3.2" style="stroke-linecap:butt"/>
<path d="M1266 1307.1 L1279.6 1315.7" fill="none" stroke="#fff" stroke-width="3.5" style="stroke-linecap:butt"/>
<path d="M1259.2 1320.1 L1272.2 1329.3" fill="none" stroke="#fff" stroke-width="3.2" style="stroke-linecap:butt"/>
<path d="M1253.7 1334.3 L1266.6 1343.5" fill="none" stroke="#fff" stroke-width="3" style="stroke-linecap:butt"/>
<path d="M1250.6 1347.8 L1262.9 1356.5" fill="none" stroke="#fff" stroke-width="2.5" style="stroke-linecap:butt"/>
<path d="M1250 1361.4 L1261.1 1369.4" fill="none" stroke="#fff" stroke-width="1.5" style="stroke-linecap:butt"/>
<path d="M1251.8 1373.7 L1261.1 1379.9" fill="none" stroke="#fff" stroke-width="0.7" style="stroke-linecap:butt"/>
<path d="M1345.6 1272.6 C1349.3 1273.3 1354.4 1275.3 1357.9 1278.1 C1361.4 1280.9 1364.4 1284.5 1366.6 1289.2 C1368.7 1294 1370.5 1300.7 1370.9 1306.5 C1371.3 1312.3 1370.6 1317.4 1369 1323.8 C1367.5 1330.1 1364.9 1337.5 1361.6 1344.7 C1358.3 1351.9 1354 1360 1349.3 1366.9 C1344.6 1373.9 1339 1380.9 1333.2 1386.7 C1327.5 1392.4 1320.7 1397.6 1314.7 1401.5 C1308.8 1405.4 1302.6 1408.6 1297.5 1410.1 C1292.3 1411.7 1288 1412 1283.9 1410.7 C1279.8 1409.5 1275.5 1406.3 1272.8 1402.7 C1270.1 1399.1 1268.7 1394.3 1267.9 1389.2 C1267 1384 1267 1378.1 1267.6 1371.9 C1268.2 1365.7 1269.5 1358.9 1271.6 1352.1 C1273.7 1345.4 1276.7 1338 1280.2 1331.2 C1283.7 1324.4 1288 1317.6 1292.5 1311.4 C1297.1 1305.3 1302.2 1299.3 1307.3 1294.2 C1312.5 1289 1318.6 1284 1323.4 1280.6 C1328.1 1277.2 1332 1275.1 1335.7 1273.8 C1339.4 1272.5 1341.9 1271.8 1345.6 1272.6Z" fill="#fff" stroke="#000" stroke-width="5"/>
<path d="M1345.6 1272.6 C1349.3 1273.3 1354.4 1275.3 1357.9 1278.1 C1361.4 1280.9 1364.4 1284.5 1366.6 1289.2 C1368.7 1294 1370.5 1300.7 1370.9 1306.5 C1371.3 1312.3 1370.6 1317.4 1369 1323.8 C1367.5 1330.1 1364.9 1337.5 1361.6 1344.7 C1358.3 1351.9 1354 1360 1349.3 1366.9 C1344.6 1373.9 1339 1380.9 1333.2 1386.7 C1327.5 1392.4 1320.7 1397.6 1314.7 1401.5 C1308.8 1405.4 1302.6 1408.6 1297.5 1410.1 C1292.3 1411.7 1288 1412 1283.9 1410.7 C1279.8 1409.5 1275.5 1406.3 1272.8 1402.7 C1270.1 1399.1 1268.7 1394.3 1267.9 1389.2 C1267 1384 1267 1378.1 1267.6 1371.9 C1268.2 1365.7 1269.5 1358.9 1271.6 1352.1 C1273.7 1345.4 1276.7 1338 1280.2 1331.2 C1283.7 1324.4 1288 1317.6 1292.5 1311.4 C1297.1 1305.3 1302.2 1299.3 1307.3 1294.2 C1312.5 1289 1318.6 1284 1323.4 1280.6 C1328.1 1277.2 1332 1275.1 1335.7 1273.8 C1339.4 1272.5 1341.9 1271.8 1345.6 1272.6Z" fill="none" stroke="#fff" stroke-width="0.9"/>
<path d="M1336.9 1286.8 C1340.2 1287 1344.8 1288.2 1348.1 1290.5 C1351.3 1292.7 1354.6 1296.4 1356.7 1300.3 C1358.7 1304.2 1360.1 1309 1360.4 1313.9 C1360.7 1318.8 1360 1324.2 1358.5 1329.9 C1357.1 1335.7 1354.7 1342.3 1351.8 1348.4 C1348.8 1354.6 1345 1361.2 1340.6 1366.9 C1336.3 1372.7 1330.8 1378.5 1325.8 1383 C1320.9 1387.5 1315.8 1391.5 1311 1394.1 C1306.3 1396.7 1301.6 1398 1297.5 1398.4 C1293.4 1398.8 1289.4 1398.1 1286.4 1396.6 C1283.3 1395 1280.8 1392.4 1279 1389.2 C1277.1 1385.9 1275.7 1381.5 1275.3 1376.8 C1274.8 1372.1 1275.3 1366.5 1276.5 1360.8 C1277.7 1355 1280 1348.4 1282.7 1342.3 C1285.3 1336.1 1288.8 1329.5 1292.5 1323.8 C1296.2 1318 1300.6 1312.5 1304.9 1307.7 C1309.2 1303 1314.5 1298.5 1318.4 1295.4 C1322.3 1292.3 1325.2 1290.7 1328.3 1289.2 C1331.4 1287.8 1333.7 1286.5 1336.9 1286.8Z" fill="none" stroke="#000" stroke-width="2.7"/>
<ellipse cx="1317.2" cy="1342" rx="7.6" ry="14.6" fill="none" stroke="#000" stroke-width="2.7" transform="rotate(32 1317.2 1342)"/>
<path d="M1318.4 1328.7 L1320.7 1326.5 L1326.1 1327.5 L1324.6 1330.6Z" fill="#000" stroke="#000" stroke-width="2.7"/>
<path d="M93.1 1772.6 L368 1931.1" fill="none" stroke="#000" stroke-width="2" stroke-dasharray="22 6" style="stroke-linecap:butt"/>
<path d="M107.5 1764.2 L331.6 1893.4" fill="none" stroke="#000" stroke-width="2" stroke-dasharray="60 14" style="stroke-linecap:butt"/>
<path d="M164.9 1711.9 L216.8 1740.6" fill="none" stroke="#000" stroke-width="2" style="stroke-linecap:butt"/>
<path d="M227.8 1748.3 L347 1817.9" fill="none" stroke="#000" stroke-width="2" stroke-dasharray="28 8" style="stroke-linecap:butt"/>
<path d="M159.4 1726.2 L334.9 1834.9" fill="none" stroke="#000" stroke-width="1.2" stroke-dasharray="48 10" style="stroke-linecap:butt"/>
<path d="M161.1 1729.8 L334.5 1837.3" fill="none" stroke="#000" stroke-width="1.2" stroke-dasharray="48 10" style="stroke-linecap:butt"/>
<path d="M163.5 1734.6 L334 1840.7" fill="none" stroke="#000" stroke-width="1.2" stroke-dasharray="48 10" style="stroke-linecap:butt"/>
<path d="M331.6 1893.4 L331.6 1836.6" fill="none" stroke="#000" stroke-width="2" style="stroke-linecap:butt"/>
<path d="M94.2 1726.2 C94.4 1721.8 93.1 1706.7 95.3 1699.7 C97.5 1692.7 102.7 1686.5 107.5 1684.3 C112.3 1682.1 119.1 1683.9 124 1686.5 C129 1689.1 133.6 1695.3 137.3 1699.7 C141 1704.2 142.8 1708.6 146.1 1713 C149.4 1717.4 155.3 1724 157.1 1726.2" fill="none" stroke="#000" stroke-width="2" stroke-dasharray="22 6" style="stroke-linecap:butt"/>
<path d="M105.3 1732.9 C105.5 1729 104.7 1715.9 106.8 1709.7 C108.9 1703.4 114.6 1698.5 117.8 1695.3 C121.1 1692.2 124.8 1691.6 126.2 1690.9" fill="none" stroke="#000" stroke-width="2" stroke-dasharray="12 5" style="stroke-linecap:butt"/>
<path d="M109.7 1732.9 C110 1729.4 110 1717.4 111.9 1711.9 C113.7 1706.4 117.6 1702.5 120.7 1699.7 C123.8 1697 129 1696.1 130.6 1695.3" fill="none" stroke="#000" stroke-width="2" stroke-dasharray="12 5" style="stroke-linecap:butt"/>
<path d="M119.6 1719.6 C121.1 1718.1 126.7 1713.6 128.4 1710.8 C130.2 1707.9 131.2 1704 130.2 1702.4 C129.2 1700.7 123.6 1701.1 122.3 1700.8" fill="none" stroke="#000" stroke-width="2" style="stroke-linecap:butt"/>
<path d="M106.4 1732.9 L106.4 1764.2" fill="none" stroke="#000" stroke-width="2" stroke-dasharray="12 5" style="stroke-linecap:butt"/>
<path d="M110.3 1732.9 L110.3 1762.7" fill="none" stroke="#000" stroke-width="2" stroke-dasharray="12 5" style="stroke-linecap:butt"/>
<path d="M94.2 1726.2 L94.2 1732.9" fill="none" stroke="#000" stroke-width="2" style="stroke-linecap:butt"/>
<path d="M78.8 1746.5 L94.2 1738.4 L94.2 1756 L86.5 1753.8" fill="none" stroke="#000" stroke-width="2" stroke-dasharray="7 4" style="stroke-linecap:butt"/>
<path d="M78.8 1746.5 L78.8 1766 L84.3 1770.4 L88.7 1780.3 L101.9 1779.2" fill="none" stroke="#000" stroke-width="2" stroke-dasharray="7 4" style="stroke-linecap:butt"/>
<path d="M107.5 1764.2 L126.2 1752.7" fill="none" stroke="#000" stroke-width="2" style="stroke-linecap:butt"/>
<path d="M109.7 1766 L127.3 1755.4" fill="none" stroke="#000" stroke-width="2" style="stroke-linecap:butt"/>
<path d="M139.5 1746.1 L158.2 1734.6" fill="none" stroke="#000" stroke-width="2" style="stroke-linecap:butt"/>
<path d="M140.6 1748.8 L158.2 1737.7" fill="none" stroke="#000" stroke-width="2" style="stroke-linecap:butt"/>
<path d="M147.2 1713 L157.1 1726.2 L162.7 1726.2" fill="none" stroke="#000" stroke-width="2" style="stroke-linecap:butt"/>
<path d="M192.5 1830 L227.8 1850.3" fill="none" stroke="#000" stroke-width="1.6" style="stroke-linecap:butt"/>
<path d="M199.1 1849.9 L368 1944.8" fill="none" stroke="#000" stroke-width="2" style="stroke-linecap:butt"/>
<path d="M194.7 1831.1 C194.9 1834.2 196.5 1843.1 195.8 1849.9 C195 1856.7 193 1863.1 190.3 1871.9 C187.5 1880.8 184 1891.5 179.2 1902.9 C174.4 1914.3 164.5 1934.1 161.6 1940.4" fill="none" stroke="#000" stroke-width="2" stroke-dasharray="30 8" style="stroke-linecap:butt"/>
<path d="M161.6 1940.4 L192.5 1960" fill="none" stroke="#000" stroke-width="1.8" style="stroke-linecap:butt"/>
<path d="M170.4 1937.1 L196.9 1952.5" fill="none" stroke="#000" stroke-width="2" style="stroke-linecap:butt"/>
<path d="M171.5 1936 L192.5 1923.8" fill="none" stroke="#000" stroke-width="2" style="stroke-linecap:butt"/>
<path d="M172.6 1931.6 L183.6 1916.1" fill="none" stroke="#000" stroke-width="2" style="stroke-linecap:butt"/>
<path d="M201.3 1852.1 L214.5 1885.2 L230 1927.1" fill="none" stroke="#000" stroke-width="2" stroke-dasharray="26 8" style="stroke-linecap:butt"/>
<path d="M192.5 1887 L214.5 1885.6" fill="none" stroke="#000" stroke-width="2" stroke-dasharray="12 5" style="stroke-linecap:butt"/>
<path d="M199.1 1852.1 L205.7 1863.1" fill="none" stroke="#000" stroke-width="2" style="stroke-linecap:butt"/>
<path d="M215.6 1859.8 L216.3 1869.7" fill="none" stroke="#000" stroke-width="2" style="stroke-linecap:butt"/>
<path d="M210.1 1922.7 C213.1 1923.3 221.2 1924 227.8 1926 C234.4 1928.1 242.3 1932.5 249.9 1934.9 C257.4 1937.3 269.2 1939.5 273.1 1940.4" fill="none" stroke="#000" stroke-width="2" style="stroke-linecap:butt"/>
<path d="M210.1 1928.2 C213.1 1928.9 221.2 1929.9 227.8 1932 C234.4 1934.1 242.3 1938.4 249.9 1940.8 C257.4 1943.3 269.2 1945.6 273.1 1946.6" fill="none" stroke="#000" stroke-width="2" style="stroke-linecap:butt"/>
<path d="M317.2 1945.9 C321.4 1945.7 334.5 1945.5 342.6 1944.8 C350.7 1944.1 361.9 1942 365.8 1941.5" fill="none" stroke="#000" stroke-width="2" style="stroke-linecap:butt"/>
<path d="M319.4 1951.4 C323.6 1951.4 336.9 1951.7 344.8 1951 C352.7 1950.3 363.2 1947.7 366.9 1947" fill="none" stroke="#000" stroke-width="2" style="stroke-linecap:butt"/>
<path d="M368 1931.1 L369.1 1960" fill="none" stroke="#000" stroke-width="2" style="stroke-linecap:butt"/>
<path d="M331.1 1858.7 C331.3 1856.5 330.5 1849.9 332 1845.5 C333.5 1841 336.8 1835.7 340.4 1832.2 C344 1828.7 348.9 1825.2 353.6 1824.5 C358.4 1823.7 365 1825 369.1 1827.8 C373.1 1830.6 376.5 1838.8 377.9 1841" fill="none" stroke="#000" stroke-width="2" stroke-dasharray="12 5" style="stroke-linecap:butt"/>
<path d="M331.1 1858.7 L331.1 1894" fill="none" stroke="#000" stroke-width="2" stroke-dasharray="12 5" style="stroke-linecap:butt"/>
<path d="M342.6 1858.7 L342.6 1900.6" fill="none" stroke="#000" stroke-width="2" stroke-dasharray="12 5" style="stroke-linecap:butt"/>
<path d="M345.9 1858.7 L345.9 1899.5" fill="none" stroke="#000" stroke-width="2" stroke-dasharray="12 5" style="stroke-linecap:butt"/>
<path d="M362.5 1856.5 C361 1855.8 355.1 1854.7 353.6 1852.1 C352.2 1849.5 352.3 1843.8 353.6 1841 C354.9 1838.3 360.1 1836.4 361.4 1835.5" fill="none" stroke="#000" stroke-width="2" style="stroke-linecap:butt"/>
<path d="M343.7 1900.2 L362.5 1889.6" fill="none" stroke="#000" stroke-width="2" style="stroke-linecap:butt"/>
<path d="M344.8 1897.3 L362.5 1910.6" fill="none" stroke="#000" stroke-width="2" style="stroke-linecap:butt"/>
<path d="M376.8 1880.8 L400 1869.7" fill="none" stroke="#000" stroke-width="2" style="stroke-linecap:butt"/>
<path d="M377.9 1883.4 L400 1873.1" fill="none" stroke="#000" stroke-width="2" style="stroke-linecap:butt"/>
<path d="M384.5 1852.1 L400 1869.7" fill="none" stroke="#000" stroke-width="2" style="stroke-linecap:butt"/>
<path d="M302.1 1688.8 C308.1 1681.8 326.2 1659.6 338.3 1646.6 C350.4 1633.5 362.5 1620.1 374.5 1610.3 C386.6 1600.6 399.4 1594.2 410.8 1588.2 C422.2 1582.1 433.6 1576.6 443 1574.1 C452.4 1571.6 459.1 1571.7 467.1 1573.1 C475.2 1574.4 481.6 1577.3 491.3 1582.1 C501 1587 519.8 1598.9 525.5 1602.3" fill="none" stroke="#000" stroke-width="2" stroke-dasharray="20 7" style="stroke-linecap:butt"/>
<path d="M310.1 1690.8 C315.5 1684.3 330.9 1664.2 342.3 1651.6 C353.7 1639 366.7 1625.1 378.6 1615.4 C390.5 1605.6 402.9 1599.3 413.8 1593.2 C424.7 1587.2 439 1581.5 444 1579.1" fill="none" stroke="#000" stroke-width="2" stroke-dasharray="20 7" style="stroke-linecap:butt"/>
<path d="M404.7 1654.6 C408.4 1650.6 419.2 1637 426.9 1630.5 C434.6 1623.9 443.7 1618.7 451 1615.4 C458.4 1612 464.5 1610.8 471.2 1610.3 C477.9 1609.8 484.6 1610.7 491.3 1612.3 C498 1614 505.4 1620.2 511.4 1620.4 C517.5 1620.6 524.8 1614.5 527.5 1613.3" fill="none" stroke="#000" stroke-width="2" stroke-dasharray="12 5" style="stroke-linecap:butt"/>
<path d="M418.8 1666.7 C421.5 1663.7 428.6 1654.3 434.9 1648.6 C441.3 1642.9 450 1636.2 457.1 1632.5 C464.1 1628.8 470.5 1627.1 477.2 1626.4 C483.9 1625.8 492.3 1626.8 497.3 1628.4 C502.4 1630.1 502 1636.2 507.4 1636.5 C512.8 1636.8 525.9 1631.5 529.5 1630.5" fill="none" stroke="#000" stroke-width="2" stroke-dasharray="12 5" style="stroke-linecap:butt"/>
<path d="M526.5 1571.1 L526.5 1616.4" fill="none" stroke="#000" stroke-width="2" style="stroke-linecap:butt"/>
<path d="M522.5 1620.4 L522.5 1672.7" fill="none" stroke="#000" stroke-width="2" stroke-dasharray="22 6" style="stroke-linecap:butt"/>
<path d="M529.5 1620.4 L529.5 1672.7" fill="none" stroke="#000" stroke-width="2" stroke-dasharray="22 6" style="stroke-linecap:butt"/>
<path d="M544.6 1616.4 L544.6 1680.8" fill="none" stroke="#000" stroke-width="2" style="stroke-linecap:butt"/>
<path d="M548.7 1616.4 L548.7 1678.8" fill="none" stroke="#000" stroke-width="2" style="stroke-linecap:butt"/>
<path d="M509.4 1680.8 C512.3 1679.4 520.7 1672.7 526.5 1672.7 C532.4 1672.7 541.6 1679.4 544.6 1680.8" fill="none" stroke="#000" stroke-width="2" stroke-dasharray="12 5" style="stroke-linecap:butt"/>
<path d="M544.6 1680.8 L569.8 1688.8" fill="none" stroke="#000" stroke-width="2" style="stroke-linecap:butt"/>
<path d="M511.4 1686.8 L526.5 1677.8" fill="none" stroke="#000" stroke-width="2" style="stroke-linecap:butt"/>
<path d="M545.6 1683.8 L565.8 1694.9" fill="none" stroke="#000" stroke-width="2" style="stroke-linecap:butt"/>
<path d="M461.1 1628.4 L455.1 1650.6" fill="none" stroke="#000" stroke-width="2" style="stroke-linecap:butt"/>
<path d="M471.2 1626.4 L465.1 1648.6" fill="none" stroke="#000" stroke-width="2" style="stroke-linecap:butt"/>
<path d="M486.3 1628.4 L479.2 1650.6" fill="none" stroke="#000" stroke-width="2" style="stroke-linecap:butt"/>
<path d="M503.4 1636.5 L497.3 1656.6" fill="none" stroke="#000" stroke-width="2" style="stroke-linecap:butt"/>
<path d="M449 1669.7 L441 1690.8" fill="none" stroke="#000" stroke-width="2" style="stroke-linecap:butt"/>
<path d="M457.1 1669.7 L449 1692.9" fill="none" stroke="#000" stroke-width="2" style="stroke-linecap:butt"/>
<path d="M473.2 1669.7 L465.1 1688.8" fill="none" stroke="#000" stroke-width="2" style="stroke-linecap:butt"/>
<path d="M490.3 1675.7 L483.2 1694.9" fill="none" stroke="#000" stroke-width="2" style="stroke-linecap:butt"/>
<path d="M441 1690.8 L471.2 1711 L495.3 1692.9" fill="none" stroke="#000" stroke-width="2" stroke-dasharray="12 5" style="stroke-linecap:butt"/>
<path d="M465.1 1688.8 L483.2 1694.9" fill="none" stroke="#000" stroke-width="2" stroke-dasharray="7 4" style="stroke-linecap:butt"/>
<path d="M398.7 1733.1 C402.1 1730.8 413.5 1723.7 418.8 1719 C424.2 1714.3 427.2 1709.6 430.9 1704.9 C434.6 1700.2 439.3 1693.2 441 1690.8" fill="none" stroke="#000" stroke-width="2" stroke-dasharray="12 5" style="stroke-linecap:butt"/>
<path d="M402.7 1739.2 C406.1 1736.5 417.5 1727.7 422.9 1723.1 C428.2 1718.4 432.9 1713 434.9 1711" fill="none" stroke="#000" stroke-width="2" stroke-dasharray="12 5" style="stroke-linecap:butt"/>
<path d="M370.5 1749.2 L390.6 1739.2" fill="none" stroke="#000" stroke-width="2" style="stroke-linecap:butt"/>
<path d="M373.5 1754.3 L391.7 1744.2" fill="none" stroke="#000" stroke-width="2" style="stroke-linecap:butt"/>
<path d="M430.9 1709 L477.2 1739.2" fill="none" stroke="#000" stroke-width="2" style="stroke-linecap:butt"/>
<path d="M479.2 1702.9 L527.5 1731.1" fill="none" stroke="#000" stroke-width="2" style="stroke-linecap:butt"/>
<path d="M410.8 1731.1 L459.1 1760.3" fill="none" stroke="#000" stroke-width="2" style="stroke-linecap:butt"/>
<path d="M310.1 1727.1 L352.4 1751.2" fill="none" stroke="#000" stroke-width="2.2" style="stroke-linecap:butt"/>
<path d="M297 1721 L310.1 1722 L314.2 1725.5" fill="none" stroke="#000" stroke-width="2" style="stroke-linecap:butt"/>
<path d="M310.1 1727.1 C310.6 1724.1 311.1 1714 313.1 1709 C315.2 1703.9 320.7 1698.9 322.2 1696.9" fill="none" stroke="#000" stroke-width="2" stroke-dasharray="12 5" style="stroke-linecap:butt"/>
<path d="M318.2 1721 C318.5 1719 319.1 1713 320.2 1709 C321.3 1704.9 323.9 1698.9 324.6 1696.9" fill="none" stroke="#000" stroke-width="2" stroke-dasharray="12 5" style="stroke-linecap:butt"/>
<path d="M358.4 1745.2 C359.1 1741.2 359.8 1728.9 362.5 1721 C365.2 1713.2 372.5 1701.7 374.5 1697.9" fill="none" stroke="#000" stroke-width="2" style="stroke-linecap:butt"/>
<path d="M344.4 1737.1 L358.4 1746.2 L370.5 1749.2" fill="none" stroke="#000" stroke-width="2" stroke-dasharray="12 5" style="stroke-linecap:butt"/>
<path d="M338.3 1646.6 L348.4 1650.6 L336.3 1672.7" fill="none" stroke="#000" stroke-width="2" stroke-dasharray="7 4" style="stroke-linecap:butt"/>
<path d="M302.1 1688.8 L332.3 1664.7" fill="none" stroke="#000" stroke-width="2" style="stroke-linecap:butt"/>
<path d="M310.1 1690.8 L333.3 1665.7 L320.2 1688.8" fill="none" stroke="#000" stroke-width="2" style="stroke-linecap:butt"/>
<path d="M426.9 1603.3 C427.6 1604 429.1 1606.8 430.9 1607.3 C432.8 1607.8 436.8 1606.5 438 1606.3" fill="none" stroke="#000" stroke-width="2" style="stroke-linecap:butt"/>
<path d="M495.3 1590.2 L503.4 1588.2 L513.4 1597.2 L503.4 1596.2" fill="none" stroke="#000" stroke-width="2" stroke-dasharray="7 4" style="stroke-linecap:butt"/>
<path d="M358.4 1626.4 L382.6 1610.3" fill="none" stroke="#000" stroke-width="2" style="stroke-linecap:butt"/>
<path d="M386.6 1602.3 L414.8 1586.2" fill="none" stroke="#000" stroke-width="2" style="stroke-linecap:butt"/>
<path d="M399.7 1598.2 L414.8 1606.3" fill="none" stroke="#000" stroke-width="2" style="stroke-linecap:butt"/>
<path d="M426.9 1584.2 L436.9 1592.2" fill="none" stroke="#000" stroke-width="2" style="stroke-linecap:butt"/>
<path d="M453.1 1602.3 L467.1 1610.3" fill="none" stroke="#000" stroke-width="2" style="stroke-linecap:butt"/>
<path d="M428.9 1614.4 L447 1626.4" fill="none" stroke="#000" stroke-width="2" style="stroke-linecap:butt"/>
<path d="M221.4 1739.2 L500 1899.7" fill="none" stroke="#000" stroke-width="2" stroke-dasharray="19 6" style="stroke-linecap:butt"/>
<path d="M274 1726.8 L568.2 1897" fill="none" stroke="#000" stroke-width="2" stroke-dasharray="19 6" style="stroke-linecap:butt"/>
<path d="M311 1726.8 L616.9 1899" fill="none" stroke="#000" stroke-width="2" stroke-dasharray="19 6" style="stroke-linecap:butt"/>
<path d="M412.3 1733.4 L650 1867.8" fill="none" stroke="#000" stroke-width="2" stroke-dasharray="19 6" style="stroke-linecap:butt"/>
<path d="M429.9 1713.9 L650 1836.6" fill="none" stroke="#000" stroke-width="2" stroke-dasharray="19 6" style="stroke-linecap:butt"/>
<path d="M478.6 1704.2 L650 1797.7" fill="none" stroke="#000" stroke-width="2" stroke-dasharray="19 6" style="stroke-linecap:butt"/>
<path d="M283.8 1762.6 L552.6 1916.5" fill="none" stroke="#000" stroke-width="2" stroke-dasharray="19 6" style="stroke-linecap:butt"/>
<path d="M394.8 1867.8 L463 1902.9" fill="none" stroke="#000" stroke-width="2" style="stroke-linecap:butt"/>
<path d="M396.8 1872.5 L459.1 1906.8" fill="none" stroke="#000" stroke-width="2" style="stroke-linecap:butt"/>
<path d="M344.2 1899 L392.9 1928.2" fill="none" stroke="#000" stroke-width="2" stroke-dasharray="22 6" style="stroke-linecap:butt"/>
<path d="M392.9 1928.2 C396.8 1929 408.4 1933.8 416.2 1932.9 C424 1931.9 432.5 1926.4 439.6 1922.3 C446.8 1918.3 455.1 1911.9 459.1 1908.7 C463.1 1905.5 463 1903.8 463.8 1902.9" fill="none" stroke="#000" stroke-width="2" stroke-dasharray="22 6" style="stroke-linecap:butt"/>
<path d="M369.5 1930.9 L369.5 1961.3" fill="none" stroke="#000" stroke-width="2" style="stroke-linecap:butt"/>
<path d="M463 1902.9 L498.1 1902.9" fill="none" stroke="#000" stroke-width="2" style="stroke-linecap:butt"/>
<path d="M498.1 1902.9 C501.3 1905.8 510.4 1916.4 517.5 1920.4 C524.7 1924.4 531.8 1927 540.9 1927 C550 1927 561.7 1924.4 572.1 1920.4 C582.5 1916.4 592.9 1910.3 603.2 1902.9 C613.6 1895.4 626.6 1883.4 634.4 1875.6 C642.2 1867.8 647.4 1859.4 650 1856.1" fill="none" stroke="#000" stroke-width="2" style="stroke-linecap:butt"/>
<path d="M490.3 1899 C494.2 1902.2 505.2 1913.2 513.6 1918.4 C522.1 1923.6 530.5 1929.5 540.9 1930.1 C551.3 1930.8 570.1 1923.6 576 1922.3" fill="none" stroke="#000" stroke-width="2" stroke-dasharray="12 5" style="stroke-linecap:butt"/>
<path d="M572.1 1883.4 L611 1904.8" fill="none" stroke="#000" stroke-width="2" style="stroke-linecap:butt"/>
<path d="M576 1877.5 L616.9 1899.7" fill="none" stroke="#000" stroke-width="2" style="stroke-linecap:butt"/>
<path d="M601.3 1807.4 C601.3 1808.7 603.2 1809.7 601.3 1815.2 C599.4 1820.7 594.2 1829.2 589.6 1840.5 C585.1 1851.9 576.6 1876.2 574 1883.4" fill="none" stroke="#000" stroke-width="2" style="stroke-linecap:butt"/>
<path d="M587.7 1832.7 L576 1871.7" fill="none" stroke="#000" stroke-width="2" style="stroke-linecap:butt"/>
<path d="M556.5 1784 L601.3 1809.4" fill="none" stroke="#000" stroke-width="2" style="stroke-linecap:butt"/>
<ellipse cx="561.2" cy="1884.5" rx="3.9" ry="1.9" fill="none" stroke="#000" stroke-width="2" transform="rotate(20 561.2 1884.5)"/>
<path d="M299.4 2054.8 L299.4 2175.6" fill="none" stroke="#000" stroke-width="2" stroke-dasharray="22 6" style="stroke-linecap:butt"/>
<path d="M299.4 2175.6 C300.6 2177.5 300.6 2184.4 307.1 2187.3 C313.6 2190.2 329.9 2192.8 338.3 2193.1 C346.8 2193.4 354.5 2189.9 357.8 2189.2" fill="none" stroke="#000" stroke-width="2" style="stroke-linecap:butt"/>
<path d="M357.8 2189.2 L620.8 2037.3" fill="none" stroke="#000" stroke-width="2" stroke-dasharray="34 9" style="stroke-linecap:butt"/>
<path d="M310.3 2051.7 C309.4 2060.6 306 2083.5 305.2 2105.5 C304.4 2127.4 305.2 2170.4 305.2 2183.4" fill="none" stroke="#000" stroke-width="2" stroke-dasharray="22 6" style="stroke-linecap:butt"/>
<path d="M333.6 2066.5 C332.6 2075.6 328.6 2100.8 327.4 2121 C326.2 2141.3 326.8 2176.9 326.6 2188.1" fill="none" stroke="#000" stroke-width="2" stroke-dasharray="22 6" style="stroke-linecap:butt"/>
<path d="M361.7 2074.3 C360.7 2082.7 356.8 2106.8 355.8 2124.9 C354.9 2143.1 355.8 2173.6 355.8 2183.4" fill="none" stroke="#000" stroke-width="2" stroke-dasharray="22 6" style="stroke-linecap:butt"/>
<path d="M299.4 2105.5 C304.5 2108.4 320.8 2120.7 330.5 2123 C340.3 2125.3 353.2 2119.7 357.8 2119.1" fill="none" stroke="#000" stroke-width="2" stroke-dasharray="12 5" style="stroke-linecap:butt"/>
<path d="M334.4 2006.1 C337 2002.5 344.2 1990.8 350 1984.7 C355.8 1978.5 366.2 1971.7 369.5 1969.1" fill="none" stroke="#000" stroke-width="2" style="stroke-linecap:butt"/>
<path d="M344.2 2008.1 C347.1 2004.5 355.5 1993.1 361.7 1986.6 C367.9 1980.1 377.9 1972 381.2 1969.1" fill="none" stroke="#000" stroke-width="2" style="stroke-linecap:butt"/>
<path d="M357.8 2015.8 C361 2011.9 371.4 1999 377.3 1992.5 C383.1 1986 390.3 1979.5 392.9 1976.9" fill="none" stroke="#000" stroke-width="2" style="stroke-linecap:butt"/>
<path d="M381.2 2037.3 C384.4 2033.1 395.1 2019.4 400.6 2011.9 C406.2 2004.5 410.4 1999 414.3 1992.5 C418.2 1986 422.4 1976.2 424 1973" fill="none" stroke="#000" stroke-width="2" style="stroke-linecap:butt"/>
<path d="M424 1934 C424.5 1938.6 426.8 1953.5 427.1 1961.3 C427.5 1969.1 429.1 1973.6 426 1980.8 C422.9 1987.9 411.4 2000.3 408.4 2004.2" fill="none" stroke="#000" stroke-width="2" stroke-dasharray="22 6" style="stroke-linecap:butt"/>
<path d="M394.8 1932.1 L394.8 1969.1" fill="none" stroke="#000" stroke-width="2" stroke-dasharray="22 6" style="stroke-linecap:butt"/>
<path d="M361.7 1965.2 C364.9 1965.5 374.7 1965.7 381.2 1967.1 C387.7 1968.6 394.2 1972.8 400.6 1973.8 C407.1 1974.7 416.9 1973.1 420.1 1973" fill="none" stroke="#000" stroke-width="2" stroke-dasharray="12 5" style="stroke-linecap:butt"/>
<path d="M416.2 2062.6 C419.5 2061.6 431.2 2055.5 435.7 2056.8 C440.3 2058.1 443.5 2064.5 443.5 2070.4 C443.5 2076.2 440.3 2086.9 435.7 2091.8 C431.2 2096.7 419.5 2098.3 416.2 2099.6" fill="none" stroke="#000" stroke-width="2" style="stroke-linecap:butt"/>
<path d="M435.7 2056.8 C432.5 2058.4 420.1 2061.6 416.2 2066.5 C412.3 2071.4 412 2080.5 412.3 2086 C412.7 2091.5 417.2 2097.3 418.2 2099.6" fill="none" stroke="#000" stroke-width="2" style="stroke-linecap:butt"/>
<path d="M428.7 2021.7 C427.9 2022.3 424.3 2024 424 2025.6 C423.8 2027.2 426.6 2030.5 427.1 2031.4" fill="none" stroke="#000" stroke-width="2" style="stroke-linecap:butt"/>
<path d="M431 2124.9 C430.3 2125.7 426.6 2127.8 426.4 2129.6 C426.1 2131.4 429 2134.8 429.5 2135.8" fill="none" stroke="#000" stroke-width="2" style="stroke-linecap:butt"/>
<path d="M622.7 1924.3 C622.2 1926.6 620.3 1933.7 619.6 1937.9 C619 1942.1 619 1947.7 618.8 1949.6" fill="none" stroke="#000" stroke-width="2" style="stroke-linecap:butt"/>
<path d="M634.4 1922.3 C633.9 1924.6 631.9 1931.4 631.3 1936 C630.6 1940.5 630.6 1947.3 630.5 1949.6" fill="none" stroke="#000" stroke-width="2" style="stroke-linecap:butt"/>
<path d="M161 1939.9 L239 1988.6" fill="none" stroke="#000" stroke-width="2" stroke-dasharray="40 10" style="stroke-linecap:butt"/>
<path d="M170.8 1934.8 L237 1976.1" fill="none" stroke="#000" stroke-width="2" style="stroke-linecap:butt"/>
<path d="M239 1988.6 L274 1959.4 L299.4 1961.3" fill="none" stroke="#000" stroke-width="2" stroke-dasharray="22 6" style="stroke-linecap:butt"/>
<path d="M240.9 1982.7 L274 1965.2 L299.4 1967.1" fill="none" stroke="#000" stroke-width="2" style="stroke-linecap:butt"/>
<path d="M322.7 1965.2 L357.8 1969.1" fill="none" stroke="#000" stroke-width="2" stroke-dasharray="22 6" style="stroke-linecap:butt"/>
<path d="M324.7 1969.9 L350 1971" fill="none" stroke="#000" stroke-width="2" style="stroke-linecap:butt"/>
<path d="M357.8 1969.1 L369.5 1961.3" fill="none" stroke="#000" stroke-width="2" style="stroke-linecap:butt"/>
<path d="M348.1 1953.5 C348.5 1954.3 350.8 1956.9 350.8 1958.2 C350.8 1959.5 348.5 1960.8 348.1 1961.3" fill="none" stroke="#000" stroke-width="2" style="stroke-linecap:butt"/>
<path d="M205.8 1934 C205.3 1934.5 202.7 1936.2 202.7 1937.1 C202.7 1938.1 205.3 1939.4 205.8 1939.9" fill="none" stroke="#000" stroke-width="2" style="stroke-linecap:butt"/>
<path d="M205.8 1734.2 C211 1733.7 226.6 1733.8 237 1731.4 C247.4 1729 259.1 1724.6 268.2 1719.7 C277.3 1714.9 285.1 1708.2 291.6 1702.2 C298.1 1696.2 304.5 1686.9 307.1 1683.9" fill="none" stroke="#000" stroke-width="2" style="stroke-linecap:butt"/>
<path d="M213.6 1737.3 C218.8 1736.8 234.7 1736.6 244.8 1734.2 C254.9 1731.8 269.2 1724.7 274 1722.9" fill="none" stroke="#000" stroke-width="2" stroke-dasharray="12 5" style="stroke-linecap:butt"/>
<path d="M270.1 1719.7 C277.6 1721 300.3 1722.3 314.9 1727.5 C329.5 1732.7 347.4 1746.9 357.8 1750.9 C368.2 1754.9 374 1751.6 377.3 1751.7" fill="none" stroke="#000" stroke-width="2" stroke-dasharray="22 6" style="stroke-linecap:butt"/>
<path d="M252.6 1760.6 C253.2 1756.4 253.2 1741.8 256.5 1735.3 C259.7 1728.8 269.5 1724 272.1 1721.7" fill="none" stroke="#000" stroke-width="2" stroke-dasharray="12 5" style="stroke-linecap:butt"/>
<path d="M258.4 1760.6 C259.1 1756.8 259.1 1743.4 262.3 1737.3 C265.6 1731.1 275.3 1725.9 277.9 1723.6" fill="none" stroke="#000" stroke-width="2" stroke-dasharray="12 5" style="stroke-linecap:butt"/>
<path d="M311 1725.6 L350 1749" fill="none" stroke="#000" stroke-width="2" style="stroke-linecap:butt"/>
<path d="M318.8 1676.9 C317.7 1680.8 313.1 1692.5 311.8 1700.3 C310.5 1708.1 311.2 1719.7 311 1723.6" fill="none" stroke="#000" stroke-width="2" stroke-dasharray="12 5" style="stroke-linecap:butt"/>
<path d="M375.3 1696.4 C373.4 1700.9 366.6 1714.5 363.6 1723.6 C360.7 1732.7 358.8 1746.4 357.8 1750.9" fill="none" stroke="#000" stroke-width="2" style="stroke-linecap:butt"/>
<path d="M373.4 1751.7 L408.4 1731.4" fill="none" stroke="#000" stroke-width="2" stroke-dasharray="22 6" style="stroke-linecap:butt"/>
<path d="M552.6 1480.1 L580.2 1465.5" fill="none" stroke="#000" stroke-width="2" stroke-dasharray="12 5" style="stroke-linecap:butt"/>
<path d="M594.8 1465.5 L627.3 1483.3" fill="none" stroke="#000" stroke-width="2" stroke-dasharray="12 5" style="stroke-linecap:butt"/>
<path d="M646.8 1493.1 L672.7 1508.3" fill="none" stroke="#000" stroke-width="2" stroke-dasharray="12 5" style="stroke-linecap:butt"/>
<path d="M669.5 1522.3 L640.3 1538.5" fill="none" stroke="#000" stroke-width="2" stroke-dasharray="12 5" style="stroke-linecap:butt"/>
<path d="M620.8 1538.5 L591.6 1520.6" fill="none" stroke="#000" stroke-width="2" stroke-dasharray="12 5" style="stroke-linecap:butt"/>
<path d="M575.3 1510.9 L547.7 1494.7" fill="none" stroke="#000" stroke-width="2" stroke-dasharray="12 5" style="stroke-linecap:butt"/>
<path d="M549.4 1471.9 L572.1 1460.6" fill="none" stroke="#000" stroke-width="2" stroke-dasharray="12 5" style="stroke-linecap:butt"/>
<path d="M601.3 1459 L624 1471.9" fill="none" stroke="#000" stroke-width="2" stroke-dasharray="12 5" style="stroke-linecap:butt"/>
<path d="M650 1486.6 L676 1501.2" fill="none" stroke="#000" stroke-width="2" stroke-dasharray="12 5" style="stroke-linecap:butt"/>
<path d="M572.1 1460.6 C573.2 1459.7 574.8 1456 578.6 1455.1 C582.4 1454.1 590.7 1454.1 594.8 1455.1 C598.9 1456 601.8 1458.3 602.9 1460.6 C604 1462.9 601.6 1467.3 601.3 1468.7" fill="none" stroke="#000" stroke-width="2" style="stroke-linecap:butt"/>
<path d="M529.9 1484.9 C531 1483.3 533.7 1480.7 536.4 1480.1 C539.1 1479.4 543.8 1480 546.1 1481 C548.4 1482.1 550 1484.3 550 1486.6 C550 1488.8 548.6 1493.1 546.1 1494.7 C543.6 1496.3 537.4 1497.1 534.7 1496.3 C532 1495.5 530.7 1491.7 529.9 1489.8 C529.1 1487.9 528.8 1486.6 529.9 1484.9Z" fill="none" stroke="#000" stroke-width="2" style="stroke-linecap:butt"/>
<path d="M669.5 1509.3 C670.6 1508.6 673 1505.2 676 1505.1 C679 1504.9 685.2 1506.5 687.3 1508.3 C689.5 1510.1 689.8 1513.5 689 1515.8 C688.1 1518.1 685.2 1521.4 682.5 1522.3 C679.8 1523.2 674.4 1521.5 672.7 1521.3" fill="none" stroke="#000" stroke-width="2" style="stroke-linecap:butt"/>
<path d="M620.8 1538.5 C621.3 1539.6 621.9 1543.5 624 1545 C626.2 1546.5 631.1 1547.5 633.8 1547.3 C636.5 1547 638.9 1545.1 640.3 1543.4 C641.6 1541.6 641.6 1538 641.9 1536.9" fill="none" stroke="#000" stroke-width="2" stroke-dasharray="7 4" style="stroke-linecap:butt"/>
<path d="M579.5 1463.8 C579.9 1463 579.8 1459.8 581.8 1459 C583.8 1458.1 589.4 1458.1 591.6 1459 C593.7 1459.8 594.3 1463 594.8 1463.8" fill="none" stroke="#000" stroke-width="2" style="stroke-linecap:butt"/>
<path d="M526.6 1489.8 L526.6 1601.8" fill="none" stroke="#000" stroke-width="2" stroke-dasharray="22 6" style="stroke-linecap:butt"/>
<path d="M542.9 1497.9 L542.9 1556.4" fill="none" stroke="#000" stroke-width="2" style="stroke-linecap:butt"/>
<path d="M547.7 1497.9 L547.7 1556.4" fill="none" stroke="#000" stroke-width="2" style="stroke-linecap:butt"/>
<path d="M580.2 1465.5 L580.2 1517.4" fill="none" stroke="#000" stroke-width="2" stroke-dasharray="22 6" style="stroke-linecap:butt"/>
<path d="M593.2 1465.5 L593.2 1517.4" fill="none" stroke="#000" stroke-width="2" stroke-dasharray="22 6" style="stroke-linecap:butt"/>
<path d="M614.3 1538.5 L614.3 1598.6" fill="none" stroke="#000" stroke-width="2" style="stroke-linecap:butt"/>
<path d="M648.4 1538.5 L648.4 1598.6" fill="none" stroke="#000" stroke-width="2" style="stroke-linecap:butt"/>
<path d="M614.3 1657 L614.3 1723.6" fill="none" stroke="#000" stroke-width="2" style="stroke-linecap:butt"/>
<path d="M648.4 1657 L648.4 1723.6" fill="none" stroke="#000" stroke-width="2" style="stroke-linecap:butt"/>
<path d="M671.1 1520.6 L671.1 1582.3" fill="none" stroke="#000" stroke-width="2" style="stroke-linecap:butt"/>
<path d="M676 1520.6 L676 1582.3" fill="none" stroke="#000" stroke-width="2" style="stroke-linecap:butt"/>
<path d="M690.6 1515.8 L690.6 1575.8" fill="none" stroke="#000" stroke-width="2" stroke-dasharray="22 6" style="stroke-linecap:butt"/>
<path d="M671.1 1644 L671.1 1705.7" fill="none" stroke="#000" stroke-width="2" style="stroke-linecap:butt"/>
<path d="M676 1644 L676 1705.7" fill="none" stroke="#000" stroke-width="2" style="stroke-linecap:butt"/>
<path d="M690.6 1627.8 L690.6 1699.2" fill="none" stroke="#000" stroke-width="2" style="stroke-linecap:butt"/>
<path d="M588.3 1705.7 L611 1720.3" fill="none" stroke="#000" stroke-width="2" stroke-dasharray="22 6" style="stroke-linecap:butt"/>
<path d="M611 1720.3 C611.6 1721.7 612.1 1726.8 614.3 1728.4 C616.5 1730.1 622.4 1729.8 624 1730.1" fill="none" stroke="#000" stroke-width="2" style="stroke-linecap:butt"/>
<path d="M640.3 1726.8 C641.9 1726.5 648.1 1726.5 650 1725.2 C651.9 1723.8 651.4 1719.8 651.6 1718.7" fill="none" stroke="#000" stroke-width="2" style="stroke-linecap:butt"/>
<path d="M651.6 1720.3 L672.7 1707.3" fill="none" stroke="#000" stroke-width="2" stroke-dasharray="22 6" style="stroke-linecap:butt"/>
<path d="M672.7 1707.3 C675.4 1707.1 684.9 1707.3 689 1705.7 C693 1704.1 696.3 1700.6 697.1 1697.6 C697.9 1694.6 694.4 1689.5 693.8 1687.9" fill="none" stroke="#000" stroke-width="2" style="stroke-linecap:butt"/>
<path d="M671.1 1702.5 L650 1715.5" fill="none" stroke="#000" stroke-width="2" style="stroke-linecap:butt"/>
<path d="M628.9 1505.1 C629.4 1504.8 631.4 1503.3 632.1 1503.8 C632.8 1504.2 633 1507 633.1 1507.7" fill="none" stroke="#000" stroke-width="2" style="stroke-linecap:butt"/>
<path d="M698.7 1676.5 C700.9 1675.7 708.4 1671.4 711.7 1671.6 C714.9 1671.9 718.7 1676.1 718.2 1678.1 C717.6 1680.1 710.1 1682.7 708.4 1683.6" fill="none" stroke="#000" stroke-width="2" style="stroke-linecap:butt"/>
<ellipse cx="782.5" cy="1621.9" rx="52.6" ry="30.8" fill="none" stroke="#000" stroke-width="2" stroke-dasharray="50 10"/>
<ellipse cx="782.5" cy="1621.9" rx="42.2" ry="23.7" fill="none" stroke="#000" stroke-width="2" stroke-dasharray="70 12"/>
<path d="M729.5 1621.9 L729.5 1718.7" fill="none" stroke="#000" stroke-width="2" stroke-dasharray="70 20" style="stroke-linecap:butt"/>
<path d="M834.4 1621.9 L834.4 1723.6" fill="none" stroke="#000" stroke-width="2" stroke-dasharray="70 20" style="stroke-linecap:butt"/>
<path d="M724.7 1720.3 C725.2 1722.2 725.5 1728.4 727.9 1731.7 C730.4 1734.9 737.4 1738.5 739.3 1739.8" fill="none" stroke="#000" stroke-width="2" style="stroke-linecap:butt"/>
<path d="M731.2 1718.7 C732 1720.6 733.6 1727.1 736 1730.1 C738.5 1733 744.2 1735.5 745.8 1736.6" fill="none" stroke="#000" stroke-width="2" style="stroke-linecap:butt"/>
<path d="M760.4 1746.3 C765.3 1746.8 779.9 1750.4 789.6 1749.5 C799.4 1748.7 811.5 1745.2 818.8 1741.4 C826.1 1737.6 831 1729.3 833.4 1726.8" fill="none" stroke="#000" stroke-width="2" stroke-dasharray="22 6" style="stroke-linecap:butt"/>
<path d="M757.1 1752.8 C761.5 1753.3 775 1756.3 783.1 1756 C791.2 1755.8 802.1 1752 805.8 1751.2" fill="none" stroke="#000" stroke-width="2" style="stroke-linecap:butt"/>
<path d="M690.6 1605.1 L708.4 1595.3 L729.5 1605.7" fill="none" stroke="#000" stroke-width="2" stroke-dasharray="18 6" style="stroke-linecap:butt"/>
<path d="M692.2 1608.3 L729.5 1627.8" fill="none" stroke="#000" stroke-width="2" stroke-dasharray="18 6" style="stroke-linecap:butt"/>
<path d="M693.8 1640.8 L727.9 1658.6" fill="none" stroke="#000" stroke-width="2" stroke-dasharray="12 5" style="stroke-linecap:butt"/>
<path d="M708.4 1658.6 L727.9 1666.8" fill="none" stroke="#000" stroke-width="2" stroke-dasharray="12 5" style="stroke-linecap:butt"/>
<path d="M724.7 1720.3 L698.7 1734.9" fill="none" stroke="#000" stroke-width="2" stroke-dasharray="22 6" style="stroke-linecap:butt"/>
<path d="M641.9 1760.9 C645.9 1758.2 658.4 1748.7 666.2 1744.7 C674.1 1740.6 685.2 1737.9 689 1736.6" fill="none" stroke="#000" stroke-width="2" style="stroke-linecap:butt"/>
<path d="M637 1773.9 C640.8 1770.6 651.4 1760.1 659.7 1754.4 C668.1 1748.7 682.7 1742.2 687.3 1739.8" fill="none" stroke="#000" stroke-width="2" style="stroke-linecap:butt"/>
<path d="M689 1739.8 L671.1 1751.8 L692.2 1764.2" fill="none" stroke="#000" stroke-width="2" style="stroke-linecap:butt"/>
<path d="M831.8 1728.4 L831.8 1760.9" fill="none" stroke="#000" stroke-width="2" style="stroke-linecap:butt"/>
<path d="M835.1 1728.4 L835.1 1760.9" fill="none" stroke="#000" stroke-width="2" style="stroke-linecap:butt"/>
<path d="M838.3 1728.4 L838.3 1760.9" fill="none" stroke="#000" stroke-width="2" style="stroke-linecap:butt"/>
<path d="M777.3 1787.5 C785.4 1787.3 791.6 1790.1 797.5 1794.3 C803.4 1798.5 808.9 1805 812.7 1812.9 C816.5 1820.7 819.5 1831.7 820.3 1841.6 C821.2 1851.4 819.9 1861.3 817.8 1871.9 C815.7 1882.6 812.4 1894.5 807.7 1905.7 C802.9 1917 796.1 1929.1 789.1 1939.5 C782.1 1949.9 773.9 1960 765.5 1968.2 C757 1976.3 747.7 1983.4 738.4 1988.4 C729.2 1993.5 718.5 1997.6 709.7 1998.6 C701 1999.6 692.9 1997.7 686.1 1994.4 C679.4 1991 673.6 1985.2 669.2 1978.3 C664.9 1971.4 661.8 1961.7 659.9 1953 C658.1 1944.3 657.7 1935.5 658.2 1926 C658.8 1916.4 660.6 1905.4 663.3 1895.6 C666 1885.7 669.1 1876.5 674.3 1866.9 C679.5 1857.3 686.7 1846.9 694.5 1838.2 C702.4 1829.5 712.6 1821.6 721.6 1814.5 C730.6 1807.5 739.3 1800.5 748.6 1796 C757.9 1791.5 769.1 1787.8 777.3 1787.5Z" fill="none" stroke="#000" stroke-width="2" style="stroke-linecap:butt"/>
<path d="M718.2 1807.8 C723.2 1804.4 738.4 1792.6 748.6 1787.5 C758.7 1782.5 770 1778.2 779 1777.4 C788 1776.6 795.6 1778 802.6 1782.5 C809.6 1787 816.7 1795.1 821.2 1804.4 C825.7 1813.7 828.6 1826.9 829.6 1838.2 C830.6 1849.4 829.3 1860.1 827.1 1871.9 C824.8 1883.8 821.2 1897 816.1 1909.1 C811 1921.2 804.1 1933.6 796.7 1944.5 C789.2 1955.5 780.5 1966.2 771.4 1974.9 C762.2 1983.7 752.1 1991.5 741.8 1996.9 C731.5 2002.2 719.6 2006.1 709.7 2007 C699.9 2007.9 687.2 2003.1 682.7 2002.3" fill="none" stroke="#000" stroke-width="2" stroke-dasharray="26 8" style="stroke-linecap:butt"/>
<path d="M723.2 1799.4 C728 1796.4 742.7 1785.8 751.9 1781.6 C761.2 1777.5 770.2 1774.9 779 1774.4 C787.7 1773.8 796.7 1773.8 804.3 1778.2 C811.9 1782.7 819.6 1791.3 824.5 1801 C829.5 1810.7 832.7 1824.7 833.8 1836.5 C835 1848.3 833.7 1859.6 831.3 1871.9 C828.9 1884.3 824.7 1898.1 819.5 1910.8 C814.3 1923.4 807.7 1936.5 800.1 1947.9 C792.5 1959.3 783.3 1970.3 773.9 1979.2 C764.5 1988 754.2 1995.8 743.5 2001.1 C732.8 2006.5 715.4 2009.5 709.7 2011.2" fill="none" stroke="#000" stroke-width="2" stroke-dasharray="34 9" style="stroke-linecap:butt"/>
<path d="M802.6 1775.7 C803.7 1774.3 806.8 1768.1 809.4 1767.3 C811.9 1766.4 816 1768.4 817.8 1770.6 C819.5 1772.9 819.8 1777.4 819.8 1780.8 C819.8 1784.2 816.7 1785.3 817.8 1790.9 C818.9 1796.5 823.1 1806.7 826.2 1814.5 C829.3 1822.4 835 1829.7 836.4 1838.2 C837.8 1846.6 836.4 1855.3 834.7 1865.2 C833 1875 828.8 1888.3 826.2 1897.3 C823.7 1906.3 820.9 1912.7 819.5 1919.2 C818.1 1925.7 819.8 1931.6 817.8 1936.1 C815.8 1940.6 811.3 1943.6 807.7 1946.2 C804 1948.8 800.1 1948.3 795.8 1951.6 C791.6 1955 787.4 1961.2 782.3 1966.5 C777.3 1971.8 768.3 1980.6 765.5 1983.4" fill="none" stroke="#000" stroke-width="2" stroke-dasharray="30 9" style="stroke-linecap:butt"/>
<path d="M731.7 2007 C728 2008.1 716.5 2012.5 709.7 2013.8 C703 2015 696 2013.8 691.2 2014.6 C686.4 2015.5 685 2017.6 681 2018.8 C677.1 2020.1 671.8 2020.5 667.5 2022.2 C663.3 2023.9 657.7 2027.8 655.7 2029" fill="none" stroke="#000" stroke-width="2" stroke-dasharray="26 6 4 6" style="stroke-linecap:butt"/>
<path d="M642.2 2015.5 C643.6 2014 648.1 2008.9 650.6 2007 C653.2 2005.1 655.9 2003.4 657.4 2004 C659 2004.6 660.2 2007.4 659.9 2010.7 C659.7 2014 657.8 2020.6 655.7 2023.9 C653.6 2027.2 648.7 2029.5 647.3 2030.6" fill="none" stroke="#000" stroke-width="2" style="stroke-linecap:butt"/>
<ellipse cx="807.7" cy="1782.5" rx="1.5" ry="2.4" fill="none" stroke="#000" stroke-width="2" transform="rotate(20 807.7 1782.5)"/>
<ellipse cx="807.3" cy="1934.4" rx="1.5" ry="2.4" fill="none" stroke="#000" stroke-width="2" transform="rotate(20 807.3 1934.4)"/>
<ellipse cx="676.8" cy="2009" rx="1.5" ry="2.4" fill="none" stroke="#000" stroke-width="2" transform="rotate(20 676.8 2009)"/>
<path d="M738.4 1802.7 C738.7 1805.8 740.7 1814.8 740.1 1821.3 C739.6 1827.8 736.8 1835.6 735.1 1841.6 C733.4 1847.5 730.8 1854.2 730 1856.8" fill="none" stroke="#000" stroke-width="2" style="stroke-linecap:butt"/>
<path d="M746.9 1799.4 C747.2 1803 749.1 1814.3 748.6 1821.3 C748 1828.3 745.3 1835.6 743.5 1841.6 C741.7 1847.5 738.6 1854.2 737.6 1856.8" fill="none" stroke="#000" stroke-width="2" style="stroke-linecap:butt"/>
<path d="M753.6 1797.7 C753.7 1801.6 754.5 1814.5 754 1821.3 C753.4 1828.1 750.9 1835.4 750.3 1838.2" fill="none" stroke="#000" stroke-width="2" style="stroke-linecap:butt"/>
<path d="M775.6 1790.9 C775.3 1794.8 775 1807.2 773.9 1814.5 C772.8 1821.9 770.5 1828.6 768.8 1834.8 C767.1 1841 764.6 1848.9 763.8 1851.7" fill="none" stroke="#000" stroke-width="2" style="stroke-linecap:butt"/>
<path d="M790.8 1792.6 C790.5 1797.4 790.2 1812.6 789.1 1821.3 C788 1830 785.7 1838.2 784 1844.9 C782.3 1851.7 779.8 1859 779 1861.8" fill="none" stroke="#000" stroke-width="2" style="stroke-linecap:butt"/>
<path d="M807.7 1855.1 C807.1 1857.9 806.5 1866.3 804.3 1871.9 C802 1877.6 797.8 1883.8 794.2 1888.8 C790.5 1893.9 786 1898.8 782.3 1902.3 C778.7 1905.9 773.9 1908.7 772.2 1909.9" fill="none" stroke="#000" stroke-width="2" style="stroke-linecap:butt"/>
<path d="M796.7 1895.6 C795.7 1898.1 792.6 1907.1 790.8 1910.8 C789 1914.4 786.6 1916.4 785.7 1917.5" fill="none" stroke="#000" stroke-width="2" style="stroke-linecap:butt"/>
<path d="M811 1890.5 C809.6 1894.5 805.4 1907.7 802.6 1914.2 C799.8 1920.6 799.2 1922 794.2 1929.4 C789.1 1936.7 775.9 1953.3 772.2 1958.1" fill="none" stroke="#000" stroke-width="2" style="stroke-linecap:butt"/>
<path d="M659.1 1941.2 C662.7 1938.9 674 1933.6 681 1927.7 C688.1 1921.8 697.9 1909.4 701.3 1905.7" fill="none" stroke="#000" stroke-width="2" style="stroke-linecap:butt"/>
<path d="M660.8 1947.9 C664.7 1945.7 676.5 1940.9 684.4 1934.4 C692.3 1927.9 704.1 1913.3 708.1 1909.1" fill="none" stroke="#000" stroke-width="2" style="stroke-linecap:butt"/>
<path d="M691.2 1937.8 C694.3 1934.7 704.4 1925.7 709.7 1919.2 C715.1 1912.7 721 1902.3 723.2 1899" fill="none" stroke="#000" stroke-width="2" style="stroke-linecap:butt"/>
<path d="M696.2 1936.1 C699.9 1933 711.4 1924 718.2 1917.5 C724.9 1911.1 733.7 1900.6 736.8 1897.3" fill="none" stroke="#000" stroke-width="2" style="stroke-linecap:butt"/>
<path d="M795.8 1794.3 C797.8 1797.1 804.8 1805.5 807.7 1811.2 C810.5 1816.8 811.9 1825.2 812.7 1828.1" fill="none" stroke="#000" stroke-width="2" style="stroke-linecap:butt"/>
<path d="M777.3 1932.7 C774.2 1936.7 763.5 1951 758.7 1956.4 C753.9 1961.7 750.3 1963.4 748.6 1964.8" fill="none" stroke="#000" stroke-width="2" style="stroke-linecap:butt"/>
<path d="M703 1951.3 L684.4 1939.5 L691.2 1935.3 L713.1 1946.2" fill="none" stroke="#000" stroke-width="2" style="stroke-linecap:butt"/>
<path d="M721.6 1961.4 L740.1 1973.2 L748.6 1964.8 L730 1955.5" fill="none" stroke="#000" stroke-width="2" style="stroke-linecap:butt"/>
<path d="M775.6 1790.9 L775.6 1804.4 L802.6 1811.2" fill="none" stroke="#000" stroke-width="2" stroke-dasharray="7 4" style="stroke-linecap:butt"/>
<path d="M789.1 1794.3 L789.9 1807.8" fill="none" stroke="#000" stroke-width="2" stroke-dasharray="7 4" style="stroke-linecap:butt"/>
<path d="M618.6 1949.6 L618.6 1981.7" fill="none" stroke="#000" stroke-width="2" style="stroke-linecap:butt"/>
<path d="M618.6 1949.6 L629 1923.4" fill="none" stroke="#000" stroke-width="2" style="stroke-linecap:butt"/>
<path d="M618.6 2005.3 L618.6 2035.7" fill="none" stroke="#000" stroke-width="2" style="stroke-linecap:butt"/>
<path d="M626.2 1951.3 L626.2 1983.4" fill="none" stroke="#000" stroke-width="2" style="stroke-linecap:butt"/>
<path d="M626.2 1951.3 L636.6 1925.1" fill="none" stroke="#000" stroke-width="2" style="stroke-linecap:butt"/>
<path d="M626.2 2007 L626.2 2037.2" fill="none" stroke="#000" stroke-width="2" style="stroke-linecap:butt"/>
<path d="M635.5 1956.4 L635.5 1988.4" fill="none" stroke="#000" stroke-width="2" style="stroke-linecap:butt"/>
<path d="M635.5 1956.4 L645.9 1930.2" fill="none" stroke="#000" stroke-width="2" style="stroke-linecap:butt"/>
<path d="M635.5 2012.1 L635.5 2041.8" fill="none" stroke="#000" stroke-width="2" style="stroke-linecap:butt"/>
<path d="M618.6 1949.6 L635.5 1956.4" fill="none" stroke="#000" stroke-width="2" stroke-dasharray="7 4" style="stroke-linecap:butt"/>
<path d="M600 2047.5 L618.6 2035.7 L635.5 2041.6 L655.7 2030.6" fill="none" stroke="#000" stroke-width="2" style="stroke-linecap:butt"/>
<path d="M657.4 1844.9 L664.2 1833.1 L687.8 1838.2 L692 1848.3 L691.2 1865.2 L674.3 1878.7 L664.2 1882.1 L654 1871.9" fill="none" stroke="#000" stroke-width="2" stroke-dasharray="7 4" style="stroke-linecap:butt"/>
<path d="M654 1871.9 L657.4 1844.9" fill="none" stroke="#000" stroke-width="2" stroke-dasharray="7 4" style="stroke-linecap:butt"/>
<path d="M676 1855.1 C676.5 1854.8 678.9 1852.5 679.4 1853.4 C679.8 1854.2 678.6 1859 678.5 1860.1" fill="none" stroke="#000" stroke-width="2" style="stroke-linecap:butt"/>
<path d="M684.4 1860.1 L687.8 1855.1 L691.2 1865.2 L684.4 1860.1" fill="none" stroke="#000" stroke-width="2" style="stroke-linecap:butt"/>
<path d="M634.6 1877 C637 1874.8 645.4 1867.4 649 1863.5 C652.5 1859.6 654.6 1855.1 655.7 1853.4" fill="none" stroke="#000" stroke-width="2" style="stroke-linecap:butt"/>
<path d="M600 1905.7 C602.8 1904 610.4 1900.1 616.9 1895.6 C623.4 1891.1 633.2 1883.8 638.8 1878.7 C644.5 1873.6 648.7 1867.4 650.6 1865.2" fill="none" stroke="#000" stroke-width="2" style="stroke-linecap:butt"/>
<path d="M600 1909.1 C603.4 1907.1 613.2 1902.3 620.3 1897.3 C627.3 1892.2 638.5 1881.8 642.2 1878.7" fill="none" stroke="#000" stroke-width="2" stroke-dasharray="22 6" style="stroke-linecap:butt"/>
<path d="M638 1899 L647.3 1871.9" fill="none" stroke="#000" stroke-width="2" style="stroke-linecap:butt"/>
<path d="M644.7 1900.6 L652.3 1875.3" fill="none" stroke="#000" stroke-width="2" style="stroke-linecap:butt"/>
<path d="M654.9 1907.4 L662.5 1882.1" fill="none" stroke="#000" stroke-width="2" style="stroke-linecap:butt"/>
<path d="M600 1892.2 L613.5 1897.3" fill="none" stroke="#000" stroke-width="2" style="stroke-linecap:butt"/>
<path d="M605.1 1887.1 L618.6 1892.2" fill="none" stroke="#000" stroke-width="2" style="stroke-linecap:butt"/>
<path d="M635.5 1775.7 C640.8 1772.1 658 1760 667.5 1753.8 C677.1 1747.6 683.3 1744.2 692.9 1738.6 C702.4 1732.9 719.6 1723.1 724.9 1720" fill="none" stroke="#000" stroke-width="2" stroke-dasharray="40 10" style="stroke-linecap:butt"/>
<path d="M640.5 1763.9 C644.5 1761.4 656.3 1752.6 664.2 1748.7 C672 1744.8 683.9 1741.7 687.8 1740.3" fill="none" stroke="#000" stroke-width="2" style="stroke-linecap:butt"/>
<path d="M643.9 1762.2 C647.6 1759.7 658.5 1751.1 665.8 1747 C673.2 1742.9 684.1 1739.3 687.8 1737.7" fill="none" stroke="#000" stroke-width="2" style="stroke-linecap:butt"/>
<path d="M691.2 1765.6 L669.2 1753.8 L687.8 1743.6" fill="none" stroke="#000" stroke-width="2" style="stroke-linecap:butt"/>
<path d="M711.4 1777.4 L733.4 1789.2" fill="none" stroke="#000" stroke-width="2" style="stroke-linecap:butt"/>
<path d="M600 1772.3 L620.3 1784.2" fill="none" stroke="#000" stroke-width="2" style="stroke-linecap:butt"/>
<path d="M724.9 1720 C725.5 1722 725.8 1728.7 728.3 1731.8 C730.8 1734.9 738.2 1737.4 740.1 1738.6" fill="none" stroke="#000" stroke-width="2" style="stroke-linecap:butt"/>
<path d="M730.8 1720 C731.5 1721.7 733.1 1727.5 735.1 1730.1 C737 1732.8 741.4 1735.1 742.7 1736" fill="none" stroke="#000" stroke-width="2" style="stroke-linecap:butt"/>
<path d="M760.4 1747 C764.6 1747.6 777.3 1750.4 785.7 1750.4 C794.2 1750.4 806.8 1747.6 811 1747" fill="none" stroke="#000" stroke-width="2" style="stroke-linecap:butt"/>
<path d="M757 1752.9 C760.4 1753.5 771.1 1756.2 777.3 1756.3 C783.5 1756.4 791.3 1754.2 794.2 1753.8" fill="none" stroke="#000" stroke-width="2" style="stroke-linecap:butt"/>
<path d="M760.4 1770.6 L777.3 1762.2 L799.2 1757.1 L811 1765.6" fill="none" stroke="#000" stroke-width="2" stroke-dasharray="7 4" style="stroke-linecap:butt"/>
<path d="M765.5 1770.6 L782.3 1765.6 L799.2 1770.6" fill="none" stroke="#000" stroke-width="2" stroke-dasharray="7 4" style="stroke-linecap:butt"/>
<path d="M782.3 1750.4 L779 1762.2" fill="none" stroke="#000" stroke-width="2" style="stroke-linecap:butt"/>
<path d="M795.8 1753.8 L802.6 1767.3" fill="none" stroke="#000" stroke-width="2" style="stroke-linecap:butt"/>
<path d="M829.6 1736.9 L829.6 1760.5" fill="none" stroke="#000" stroke-width="2" style="stroke-linecap:butt"/>
<path d="M833.8 1730.1 L833.8 1762.2" fill="none" stroke="#000" stroke-width="2" style="stroke-linecap:butt"/>
<path d="M838.1 1726.8 L838.1 1762.2" fill="none" stroke="#000" stroke-width="2" style="stroke-linecap:butt"/>
<path d="M821.2 1741.9 L833.8 1728.4 L838.1 1725.1" fill="none" stroke="#000" stroke-width="2" style="stroke-linecap:butt"/>
<path d="M826.2 1787.5 C827.2 1791.5 830.7 1803.9 832.1 1811.2 C833.6 1818.5 834.5 1828.1 835 1831.4" fill="none" stroke="#000" stroke-width="2" style="stroke-linecap:butt"/>
<path d="M833 1792.6 C833.5 1796.3 835.7 1807.5 836.4 1814.5 C837 1821.6 836.6 1831.4 836.7 1834.8" fill="none" stroke="#000" stroke-width="2" style="stroke-linecap:butt"/>
<path d="M817.8 1787.5 L826.2 1799.4" fill="none" stroke="#000" stroke-width="2" style="stroke-linecap:butt"/>
<path d="M611.8 1720 C612.4 1721.4 613.5 1726.5 615.2 1728.4 C616.9 1730.4 620.8 1731.3 621.9 1731.8" fill="none" stroke="#000" stroke-width="2" style="stroke-linecap:butt"/>
<path d="M637.1 1726.8 C638.3 1726.5 641.6 1726.2 643.9 1725.1 C646.1 1723.9 649.5 1720.8 650.6 1720" fill="none" stroke="#000" stroke-width="2" style="stroke-linecap:butt"/>
<path d="M640.5 1733.5 C641.6 1733.1 645.3 1732.4 647.3 1731 C649.2 1729.6 651.5 1726 652.3 1725.1" fill="none" stroke="#000" stroke-width="2" style="stroke-linecap:butt"/>
<path d="M600 1890.5 L608.4 1895.6 L618.6 1892.2" fill="none" stroke="#000" stroke-width="2" style="stroke-linecap:butt"/>
<path d="M600 1897.3 L605.1 1899.8" fill="none" stroke="#000" stroke-width="2.2" style="stroke-linecap:butt"/>
<path d="M521.8 1671 C521.9 1671.9 521.2 1675.3 522.3 1676.5 C523.5 1677.7 527.5 1677.8 528.6 1678.1" fill="none" stroke="#000" stroke-width="2" style="stroke-linecap:butt"/>
<path d="M591.9 1702.2 L614.3 1714.9" fill="none" stroke="#000" stroke-width="2" style="stroke-linecap:butt"/>
<path d="M588 1709 L611.4 1721.7" fill="none" stroke="#000" stroke-width="2" style="stroke-linecap:butt"/>
<path d="M610.4 1721.7 C610.7 1723 610.7 1727.7 612.3 1729.5 C614 1731.3 618.8 1731.9 620.1 1732.4" fill="none" stroke="#000" stroke-width="2" style="stroke-linecap:butt"/>
<path d="M653.2 1721.7 C652.9 1723 653.6 1727.5 651.3 1729.5 C649 1731.4 641.6 1732.7 639.6 1733.4" fill="none" stroke="#000" stroke-width="2" style="stroke-linecap:butt"/>
<path d="M649.4 1715.8 L670.8 1705.1" fill="none" stroke="#000" stroke-width="2" stroke-dasharray="12 5" style="stroke-linecap:butt"/>
<path d="M652.3 1721.7 L672.7 1710" fill="none" stroke="#000" stroke-width="2" stroke-dasharray="12 5" style="stroke-linecap:butt"/>
<path d="M425.3 1710 L477.9 1740.2" fill="none" stroke="#000" stroke-width="2" style="stroke-linecap:butt"/>
<path d="M488.6 1746 L578.2 1796.7" fill="none" stroke="#000" stroke-width="2" stroke-dasharray="26 10" style="stroke-linecap:butt"/>
<path d="M411.7 1733.4 L460.4 1760.6" fill="none" stroke="#000" stroke-width="2" style="stroke-linecap:butt"/>
<path d="M573.4 1757.7 L620.1 1785" fill="none" stroke="#000" stroke-width="2" style="stroke-linecap:butt"/>
<ellipse cx="499.2" cy="1948.8" rx="1.9" ry="3.1" fill="none" stroke="#000" stroke-width="1.6" transform="rotate(20 499.2 1948.8)"/>
<path d="M1026.9 2117.1 C1033.7 2105.5 1056.7 2064.9 1067.8 2047.7 C1078.9 2030.4 1084.5 2023.3 1093.5 2013.8 C1102.5 2004.2 1113 1996 1121.6 1990.4 C1130.1 1984.7 1137.9 1981.8 1144.9 1979.9 C1151.9 1977.9 1157.4 1977.7 1163.6 1978.7 C1169.9 1979.7 1176.1 1982.2 1182.3 1985.7 C1188.6 1989.2 1195.2 1994.3 1201 1999.7 C1206.9 2005.2 1214.7 2015.3 1217.4 2018.4 L1198.7 2023.1 C1196.8 2020.4 1190.5 2010.6 1187 2006.8 C1183.5 2002.9 1181.6 2000.7 1177.7 1999.7 C1173.8 1998.8 1169.9 1998.8 1163.6 2000.9 C1157.4 2003.1 1148.1 2006.9 1140.3 2012.6 C1132.5 2018.2 1124.9 2025.3 1116.9 2034.8 C1108.9 2044.4 1102.7 2053.5 1092.3 2069.9 C1082 2086.2 1061.2 2122.5 1054.9 2133Z" fill="#fff" stroke="#fff" stroke-width="0.5"/>
<path d="M1026.9 2117.1 C1033.7 2105.5 1056.7 2064.9 1067.8 2047.7 C1078.9 2030.4 1084.5 2023.3 1093.5 2013.8 C1102.5 2004.2 1113 1996 1121.6 1990.4 C1130.1 1984.7 1137.9 1981.8 1144.9 1979.9 C1151.9 1977.9 1157.4 1977.7 1163.6 1978.7 C1169.9 1979.7 1176.1 1982.2 1182.3 1985.7 C1188.6 1989.2 1195.2 1994.3 1201 1999.7 C1206.9 2005.2 1214.7 2015.3 1217.4 2018.4" fill="none" stroke="#000" stroke-width="2.7"/>
<path d="M1030.9 2119.4 C1037.5 2108 1059.8 2067.7 1070.6 2050.7 C1081.4 2033.7 1087.2 2026.6 1095.8 2017.3 C1104.5 2007.9 1114.5 2000.1 1122.7 1994.6 C1130.9 1989.1 1138.1 1986.1 1144.9 1984.1 C1151.8 1982.1 1157.8 1981.9 1163.6 1982.7 C1169.5 1983.4 1174.5 1985.5 1180 1988.5 C1185.5 1991.6 1191.1 1995.9 1196.4 2000.9 C1201.6 2005.9 1209 2015.5 1211.6 2018.4" fill="none" stroke="#000" stroke-width="1.4"/>
<path d="M1046.8 2127.1 C1053.8 2116 1077.9 2076.7 1088.8 2060.5 C1099.7 2044.4 1104.4 2039.1 1112.2 2030.1 C1120 2021.2 1127.8 2013 1135.6 2006.8 C1143.4 2000.5 1151.9 1995.8 1159 1992.7 C1166 1989.6 1171.8 1987.9 1177.7 1988.1 C1183.5 1988.2 1188.6 1990.2 1194 1993.9 C1199.5 1997.6 1206.7 2006.2 1210.4 2010.3 C1214.1 2014.4 1215.3 2017.1 1216.2 2018.4" fill="none" stroke="#000" stroke-width="2.7"/>
<path d="M1050.3 2129.5 C1057.1 2118.7 1080.4 2080.7 1091.2 2064.7 C1102 2048.8 1107.1 2042.6 1115 2033.6 C1122.9 2024.7 1130.7 2017 1138.4 2011 C1146.1 2004.9 1154.8 2000.4 1161.3 1997.4 C1167.8 1994.4 1172.8 1993.1 1177.7 1993.2 C1182.5 1993.3 1185.8 1994.2 1190.5 1997.9 C1195.2 2001.5 1203.2 2012.1 1205.7 2014.9" fill="none" stroke="#000" stroke-width="1.6"/>
<path d="M1054.9 2133 C1061.2 2122.5 1082 2086.2 1092.3 2069.9 C1102.7 2053.5 1108.9 2044.4 1116.9 2034.8 C1124.9 2025.3 1132.5 2018.2 1140.3 2012.6 C1148.1 2006.9 1157.4 2003.1 1163.6 2000.9 C1169.9 1998.8 1173.8 1998.8 1177.7 1999.7 C1181.6 2000.7 1183.5 2002.9 1187 2006.8 C1190.5 2010.6 1196.8 2020.4 1198.7 2023.1" fill="none" stroke="#000" stroke-width="2.7"/>
<path d="M1168.3 1995.1 C1170.6 1997 1178.1 2001.9 1182.3 2006.8 C1186.6 2011.6 1192.1 2021.4 1194 2024.3" fill="none" stroke="#000" stroke-width="1.6"/>
<path d="M1026.9 2117.1 L1054.9 2133" fill="none" stroke="#000" stroke-width="2.7"/>
<path d="M1067.8 2048.8 L1090 2061.7" fill="none" stroke="#000" stroke-width="2.7"/>
<path d="M1133.2 2086.2 C1135.2 2083.1 1139.9 2074.2 1144.9 2067.5 C1150 2060.9 1156.6 2052.9 1163.6 2046.5 C1170.6 2040.1 1180 2033.2 1187 2029 C1194 2024.8 1199.5 2023 1205.7 2021.2 C1211.9 2019.5 1219.7 2018.6 1224.4 2018.4 C1229.1 2018.3 1232.2 2020 1233.8 2020.3L1233.8 2020.3 L1301.6 2061L1314.4 2068.2 C1316.4 2069.9 1322.9 2074.4 1326.1 2078 C1329.4 2081.6 1332.6 2087.7 1333.9 2089.7L1333.9 2089.7 L1433.2 2229.9L1433.2 2229.9 C1434.1 2231.7 1437.1 2236.6 1438.1 2240.6 C1439.1 2244.7 1439.7 2248.8 1439.1 2254.3 C1438.4 2259.8 1436.8 2267.3 1434.2 2273.8 C1431.6 2280.3 1428.2 2287.2 1423.5 2293.2 C1418.8 2299.3 1408.9 2307 1406 2309.8L1199.2 2429.6 L1133.8 2516.1L1133.8 2516.1 C1129.9 2520 1118.2 2533.4 1110.4 2539.5 C1102.6 2545.5 1094.8 2549.4 1087 2552.3 C1079.2 2555.3 1071 2556.8 1063.6 2557 C1056.2 2557.2 1048.4 2555.3 1042.6 2553.5 C1036.8 2551.8 1030.9 2547.7 1028.6 2546.5L1028.6 2546.5 L950.3 2503.2L950.3 2503.2 C948.9 2502.3 945.2 2501.1 942.1 2497.4 C939 2493.7 934.3 2487.7 931.6 2481 C928.8 2474.4 926.7 2465.1 925.7 2457.7 C924.7 2450.3 924.5 2445.2 925.7 2436.6 C926.9 2428.1 929.6 2416 932.7 2406.2 C935.8 2396.5 942.5 2382.9 944.4 2378.2L1018.7 2240.1 L1054.9 2176.2L1054.9 2176.2 C1055.7 2175.7 1057.1 2173.2 1059.6 2173.2 C1062.1 2173.2 1066.4 2176.5 1070.1 2176.2 C1073.8 2176 1078.7 2173.7 1081.8 2171.6 C1084.9 2169.4 1087.7 2164.7 1088.8 2163.4L1088.8 2163.4 L1116.9 2111.9Z" fill="#fff" stroke="#000" stroke-width="2.7"/>
<path d="M1133.2 2086.2 L1232.6 2142.3" fill="none" stroke="#000" stroke-width="2.7"/>
<path d="M944.4 2378.2 L1061.3 2446" fill="none" stroke="#000" stroke-width="2.7"/>
<path d="M1206.9 2128.3 C1208.6 2125.2 1212.5 2116.2 1217.4 2109.6 C1222.3 2103 1229.5 2094.8 1236.1 2088.6 C1242.7 2082.3 1249.7 2076.5 1257.1 2072.2 C1264.5 2067.9 1273.1 2064.7 1280.5 2062.9 C1287.9 2061 1298.1 2061.3 1301.6 2061" fill="none" stroke="#000" stroke-width="2.7"/>
<path d="M1206.9 2128.3 L1037.9 2429.6" fill="none" stroke="#000" stroke-width="2.7"/>
<path d="M1037.9 2429.6 C1035.6 2435.5 1027.4 2453.4 1023.9 2464.7 C1020.4 2476 1017.7 2487.3 1016.9 2497.4 C1016.1 2507.5 1017.3 2517.7 1019.2 2525.5 C1021.2 2533.2 1024.7 2539.5 1028.6 2544.2 C1032.5 2548.8 1040.3 2551.9 1042.6 2553.5" fill="none" stroke="#000" stroke-width="2.7"/>
<path d="M1232.6 2142.3 C1234.4 2139.6 1238.6 2131.4 1243.1 2126 C1247.6 2120.5 1253.2 2114.5 1259.5 2109.6 C1265.7 2104.7 1273.1 2100.1 1280.5 2096.8 C1287.9 2093.4 1297.7 2090.3 1303.9 2089.7 C1310.1 2089.2 1313.8 2091.3 1317.9 2093.2 C1322 2095.2 1326.7 2100.1 1328.4 2101.4" fill="none" stroke="#000" stroke-width="2.7"/>
<path d="M1232.6 2142.3 L1063.6 2443.6" fill="none" stroke="#000" stroke-width="2.7"/>
<path d="M1063.6 2443.6 C1061.7 2448.3 1054.9 2462.3 1051.9 2471.7 C1049 2481 1046.5 2491.2 1046.1 2499.7 C1045.7 2508.3 1047.1 2516.7 1049.6 2523.1 C1052.1 2529.5 1056.6 2534.8 1061.3 2538.3 C1066 2541.8 1071.4 2543.6 1077.7 2544.2 C1083.9 2544.7 1091.7 2544.2 1098.7 2541.8 C1105.7 2539.5 1113.5 2535.2 1119.7 2530.1 C1126 2525.1 1133.4 2514.5 1136.1 2511.4" fill="none" stroke="#000" stroke-width="2.7"/>
<path d="M1136.1 2511.4 L1200.4 2430.8" fill="none" stroke="#000" stroke-width="1.6"/>
<path d="M1330.6 2085.6 C1330.8 2086.6 1332.1 2089.5 1331.9 2091.6 C1331.8 2093.8 1330.4 2096.7 1329.6 2098.4 C1328.8 2100.2 1327.5 2101.7 1327.1 2102.3" fill="none" stroke="#000" stroke-width="2.7"/>
<path d="M1327.1 2102.3 L1430.3 2249.4" fill="none" stroke="#000" stroke-width="2.7"/>
<path d="M1430.3 2249.4 C1430.8 2251.2 1433.1 2256.1 1433.2 2260.1 C1433.4 2264.2 1432.9 2268.6 1431.3 2273.8 C1429.7 2279 1427.6 2285 1423.5 2291.3 C1419.4 2297.6 1409.7 2308.3 1406.9 2311.8" fill="none" stroke="#000" stroke-width="2.7"/>
<path d="M1431.7 2227.4 C1432.3 2229.3 1435.3 2234.9 1435.2 2238.7 C1435.1 2242.5 1431.6 2248.1 1430.9 2250" fill="none" stroke="#000" stroke-width="2.7"/>
<path d="M1406.9 2311.8 L1201.6 2434.3" fill="none" stroke="#000" stroke-width="2.7"/>
<ellipse cx="1340.7" cy="2240.6" rx="12.9" ry="18.7" fill="none" stroke="#000" stroke-width="2.7" transform="rotate(28 1340.7 2240.6)"/>
<ellipse cx="1337.4" cy="2242.6" rx="9" ry="14.8" fill="none" stroke="#000" stroke-width="2" transform="rotate(28 1337.4 2242.6)"/>
<ellipse cx="1179.8" cy="2340.3" rx="12.9" ry="18.7" fill="none" stroke="#000" stroke-width="2.7" transform="rotate(28 1179.8 2340.3)"/>
<ellipse cx="1176.8" cy="2342.2" rx="8.9" ry="14.5" fill="none" stroke="#000" stroke-width="2" transform="rotate(28 1176.8 2342.2)"/>
<path d="M1105.7 2414.4 C1102.6 2416.9 1092.9 2423.2 1087 2429.6 C1081.2 2436 1074.9 2444.8 1070.6 2453 C1066.4 2461.2 1063.1 2470.5 1061.3 2478.7 C1059.5 2486.9 1059.5 2495.5 1060.1 2502.1 C1060.7 2508.7 1063.1 2514.5 1064.8 2518.4 C1066.6 2522.4 1069.7 2524.7 1070.6 2525.9" fill="none" stroke="#000" stroke-width="3.6"/>
<path d="M1076.5 2511.4 L1082.3 2528.3 L1063.6 2535.3Z" fill="#fff" stroke="#000" stroke-width="2.7"/>
<path d="M1209.2 2265 C1208.4 2262.6 1205.2 2256.1 1204.4 2250.4 C1203.5 2244.7 1203.2 2238.4 1204.4 2230.9 C1205.5 2223.4 1207.8 2214.4 1211.2 2205.6 C1214.6 2196.8 1219.3 2187.1 1224.8 2178.3 C1230.3 2169.5 1237.1 2160.5 1244.3 2153 C1251.4 2145.5 1260.2 2138.4 1267.7 2133.5 C1275.1 2128.6 1282.9 2125.6 1289.1 2123.8 C1295.3 2122 1300.1 2122.1 1304.7 2122.8 C1309.2 2123.4 1312.8 2124.6 1316.4 2127.7 C1319.9 2130.7 1324.5 2139 1326.1 2141.3" fill="none" stroke="#000" stroke-width="3"/>
<path d="M1212.1 2266 C1213.6 2268.2 1216.9 2276.2 1220.9 2279.6 C1225 2283 1231 2285.8 1236.5 2286.4 C1242 2287.1 1247.9 2285.9 1254 2283.5 C1260.2 2281.1 1267 2277 1273.5 2271.8 C1280 2266.6 1287.1 2259.2 1293 2252.3 C1298.8 2245.5 1304 2237.7 1308.6 2230.9 C1313.1 2224.1 1317.7 2216.3 1320.3 2211.4 C1322.9 2206.6 1323.5 2203.3 1324.2 2201.7" fill="none" stroke="#000" stroke-width="3"/>
<path d="M1209.2 2265 L1212.1 2262.1" fill="none" stroke="#000" stroke-width="2"/>
<text transform="translate(1218.4 2233.3) rotate(-29.8) skewX(-10)" style="font-family:'Liberation Serif',serif;font-style:italic;font-weight:bold;font-size:60px;stroke:#000;stroke-width:0.8px"><tspan x="0" y="0" style="font-size:72px;fill:#fff;stroke-width:2.2px" textLength="34" lengthAdjust="spacingAndGlyphs">A</tspan><tspan x="23.8" y="0.5" textLength="121" lengthAdjust="spacingAndGlyphs">merican</tspan></text>
<text transform="translate(1238 2247.5) rotate(-29.3) skewX(-14)" style="font-family:'Liberation Sans',sans-serif;font-style:italic;font-weight:bold;font-size:27px;stroke:#000;stroke-width:0.6px" textLength="124" lengthAdjust="spacingAndGlyphs">SANDERS</text>
<path d="M1244.7 2249.1 L1324.2 2202.6" fill="none" stroke="#000" stroke-width="2.6"/>
<path d="M1242.3 2255.3 L1310.1 2215.4" fill="none" stroke="#000" stroke-width="2"/>
<path d="M1207.9 2229.8 L1230.1 2218.7" fill="none" stroke="#000" stroke-width="2.2"/>
<path d="M1208.8 2234.1 L1228.9 2224" fill="none" stroke="#000" stroke-width="2.2"/>
<path d="M1333.9 2236.8 L1489 2326" fill="none" stroke="#000" stroke-width="2.6"/>
<path d="M1173.5 2336.1 L1407 2473" fill="none" stroke="#000" stroke-width="2.6"/>
<path d="M824.4 2256.2 L1024.2 2364.7" fill="none" stroke="#000" stroke-width="2.6"/>
<path d="M844.4 694.2 C844.7 693.9 844.1 692.8 846.4 692.6 C848.6 692.4 855.8 692.3 858.1 692.9 C860.3 693.4 859.9 694.8 860 696 C860.1 697.2 858.8 699.3 858.6 700" fill="none" stroke="#000" stroke-width="2.7"/>
<path d="M844.4 694 L826.6 739.2 L826.6 739.2 C827 739.7 827 740.7 829.5 742.2 C831.9 743.7 836.4 746.1 841.2 747.9 C845.9 749.8 854.8 752.5 858.1 753.2 C861.3 754 860.2 752.5 860.6 752.3 L882.2 708 L882.2 708 C881.9 707.3 881.9 705.2 880.1 703.8 C878.4 702.4 874.7 701 871.7 699.5 C868.7 698.1 863.6 695.8 861.9 695 L858.6 700 L858.6 700 C858.8 699.3 860.1 697.2 860 696 C859.9 694.8 860.3 693.4 858.1 692.9 C855.8 692.3 848.6 692.4 846.4 692.6 C844.1 692.8 844.7 693.8 844.4 694Z" fill="#fff" stroke="#000" stroke-width="2.7"/>
<path d="M836 715.5 C838.1 716.8 844.6 721 849 723.2 C853.3 725.5 858.1 727.5 861.9 728.8 C865.8 730 870.6 730.4 872.3 730.7" fill="none" stroke="#000" stroke-width="5"/>
<path d="M872.3 730.7 L873.6 729.7" fill="none" stroke="#000" stroke-width="2.7"/>
<path d="M845.4 697.3 C846.5 697.8 850.1 699.5 852.2 700.5 C854.3 701.5 857.1 702.7 858.1 703.1" fill="none" stroke="#000" stroke-width="2.7"/>
<path d="M851.6 696.6 L854.8 697.9 L855.5 696" fill="none" stroke="#000" stroke-width="2"/>
<path d="M858.1 703.8 L855.5 708.3 L852.2 709.6 L850.3 714.8 L852.2 718.1 L851.6 721.9 L860.6 726.5 L865.2 709 L866.5 701.2 L861.9 696Z" fill="#000" stroke="#000" stroke-width="1"/>
<path d="M859.9 714.8 L861.9 715.5 L861.3 717.1 L859.5 716.4Z" fill="#fff" stroke="#fff" stroke-width="0.5"/>
<path d="M866.5 703.8 L861.9 726.5" fill="none" stroke="#000" stroke-width="2"/>
<path d="M869.1 709 L864.5 727.8" fill="none" stroke="#000" stroke-width="2"/>
<path d="M865.8 701.2 L874.3 705.4" fill="none" stroke="#000" stroke-width="2"/>
<path d="M868.4 709 L878.2 710.9" fill="none" stroke="#000" stroke-width="2"/>
<path d="M869.7 714.8 L872.7 716.1 L871.4 722.6 L867.1 721.9" fill="none" stroke="#000" stroke-width="2.7"/>
<path d="M960.8 811.4 C961.7 810.9 963.6 809.1 966.2 808.4 C968.8 807.7 973.3 806.7 976.4 807.4 C979.5 808 982.7 810.2 984.8 812.3 C986.9 814.4 989 818.2 989 819.9 C989 821.6 985.5 822 984.8 822.4" fill="none" stroke="#000" stroke-width="2.7"/>
<path d="M960.8 811.4 C961.5 812.3 962.2 815 964.5 816.5 C966.9 818 971.3 819.2 974.7 820.2 C978.1 821.2 983.1 822 984.8 822.4" fill="none" stroke="#000" stroke-width="2.7"/>
<path d="M964.5 817.3 L967.1 822.4 L979.7 825.8 L981.8 821.9" fill="none" stroke="#000" stroke-width="2"/>
<path d="M965.4 823.2 L954.1 851.1" fill="none" stroke="#000" stroke-width="2.7"/>
<path d="M979.4 826.3 L968.3 856.2" fill="none" stroke="#000" stroke-width="2.7"/>
<path d="M954.1 851.1 C954.7 851.9 955.4 854.7 957.8 855.7 C960.2 856.6 966.5 856.8 968.3 857" fill="none" stroke="#000" stroke-width="2.7"/>
<path d="M334.4 916.6 L340.3 916 L349.4 918.6 L357.1 923.8 L357.8 926.4 L355.8 931.6 L356.8 935.5 L355.2 938.4 L350.6 938.4 L340.3 934.8 L329.2 928.3 L328.6 925.1 L332.5 923.1Z" fill="#000" stroke="#000" stroke-width="1.2"/>
<path d="M335.4 920.5 L337.1 921 L336.2 924.4 L334.7 923.8Z" fill="#fff" stroke="#fff" stroke-width="0.3"/>
<path d="M339.6 923.8 L347.1 926.7 L346.1 929.9 L339 927Z" fill="#fff" stroke="#fff" stroke-width="0.3"/>
<path d="M350.3 927.7 L354 927.7 L353.6 931.2 L349.4 930.9Z" fill="#fff" stroke="#fff" stroke-width="0.3"/>
<ellipse cx="403" cy="2291.7" rx="15.3" ry="5.5" fill="#000" stroke="#000" stroke-width="1" transform="rotate(20 403 2291.7)"/>
<path d="M389.2 2291.2 L387.4 2296.9 L393.4 2301.6 L402.2 2304.7 L407.9 2306.8 L411 2305.2 L413.1 2299.5" fill="none" stroke="#000" stroke-width="2.7"/>
<path d="M392.9 2293.8 L391 2298.7" fill="none" stroke="#000" stroke-width="2.7"/>
<path d="M405.3 2299.5 L403.8 2304.2" fill="none" stroke="#000" stroke-width="2.7"/>
<path d="M1492 2323 L1527 2342" fill="none" stroke="#000" stroke-width="2.7"/>
<path d="M1487 2333 L1520 2352" fill="none" stroke="#000" stroke-width="2.7"/>
<path d="M1492 2323 C1491.3 2323.7 1488.4 2325.3 1487.6 2327 C1486.8 2328.7 1487.1 2332 1487 2333" fill="none" stroke="#000" stroke-width="2.7"/>
<ellipse cx="1529.6" cy="2350" rx="7.6" ry="10.4" fill="#fff" stroke="#000" stroke-width="3.6" transform="rotate(25 1529.6 2350)"/>
<path d="M1527 2355 C1527.2 2354.2 1527 2351.5 1528 2350 C1529 2348.5 1532.2 2346.7 1533 2346" fill="none" stroke="#000" stroke-width="2"/>
<path d="M1411 2469 L1429 2478.4" fill="none" stroke="#000" stroke-width="2.7"/>
<path d="M1406 2478 L1424.4 2488" fill="none" stroke="#000" stroke-width="2.7"/>
<path d="M1411 2469 C1410.3 2469.7 1407.4 2471.5 1406.6 2473 C1405.8 2474.5 1406.1 2477.2 1406 2478" fill="none" stroke="#000" stroke-width="2.7"/>
<ellipse cx="1434" cy="2486.4" rx="7.6" ry="10.4" fill="#fff" stroke="#000" stroke-width="3.6" transform="rotate(25 1434 2486.4)"/>
<path d="M1431 2492 C1431.2 2491.1 1431.3 2488 1432.4 2486.4 C1433.5 2484.8 1436.7 2483.1 1437.6 2482.4" fill="none" stroke="#000" stroke-width="2"/>
<path d="M1067.3 958.6 L1139.1 964.5 L1120 1016.8 L1048.2 1010.9Z" fill="#fff" stroke="#000" stroke-width="2.7"/>
<path d="M824.3 2118.6 Q826.8 2114.3 831.1 2116.9 L879.3 2146.2 Q883.6 2148.8 881.1 2153.1 L762.7 2361.7 Q760.2 2366 756 2363.4 L706.9 2332.8 Q702.7 2330.2 705.2 2325.9 Z" fill="#fff" stroke="#000" stroke-width="2.7"/>
<path d="M464.9 1505 L475.2 1508.9 L455.2 1557.6 L445.5 1553.7Z" fill="#fff" stroke="#000" stroke-width="2.7"/>
<path d="M452.3 1530.3 L463 1534.7" fill="none" stroke="#000" stroke-width="2.7"/>
<path d="M450.8 1535.2 L461.5 1539.6" fill="none" stroke="#000" stroke-width="1.5"/>
<path d="M800.4 216.1 L988.4 301.8" fill="none" stroke="#000" stroke-width="2.7"/>
<path d="M1013 313 L985.5 308.2 L991.3 295.4Z" fill="#000" stroke="#000" stroke-width="0.6" stroke-linejoin="miter"/>
<circle cx="764" cy="199.5" r="40" fill="#fff" stroke="#000" stroke-width="2.7"/>
<text x="764" y="212.2" text-anchor="middle" font-size="35.5">2</text>
<path d="M752.7 322.2 L934.6 419.3" fill="none" stroke="#000" stroke-width="2.7"/>
<path d="M958.4 432 L931.3 425.5 L937.9 413.1Z" fill="#000" stroke="#000" stroke-width="0.6" stroke-linejoin="miter"/>
<circle cx="717.4" cy="303.4" r="40" fill="#fff" stroke="#000" stroke-width="2.7"/>
<text x="717.4" y="316.1" text-anchor="middle" font-size="35.5">19</text>
<path d="M698.6 447.9 L826.9 604.1" fill="none" stroke="#000" stroke-width="2.7"/>
<path d="M844 625 L821.5 608.6 L832.3 599.7Z" fill="#000" stroke="#000" stroke-width="0.6" stroke-linejoin="miter"/>
<circle cx="673.2" cy="417" r="40" fill="#fff" stroke="#000" stroke-width="2.7"/>
<text x="673.2" y="429.7" text-anchor="middle" font-size="35.5">6</text>
<path d="M652.2 562.3 L817.8 693.3" fill="none" stroke="#000" stroke-width="2.7"/>
<path d="M839 710 L813.5 698.7 L822.2 687.8Z" fill="#000" stroke="#000" stroke-width="0.6" stroke-linejoin="miter"/>
<circle cx="620.8" cy="537.5" r="40" fill="#fff" stroke="#000" stroke-width="2.7"/>
<text x="620.8" y="550.2" text-anchor="middle" font-size="35.5">5</text>
<path d="M1244.9 575.7 L1065.8 660.7" fill="none" stroke="#000" stroke-width="2.7"/>
<path d="M1041.4 672.3 L1062.8 654.4 L1068.8 667Z" fill="#000" stroke="#000" stroke-width="0.6" stroke-linejoin="miter"/>
<circle cx="1281" cy="558.5" r="40" fill="#fff" stroke="#000" stroke-width="2.7"/>
<text x="1281" y="571.2" text-anchor="middle" font-size="35.5">4</text>
<path d="M230.4 810.1 L426.9 887" fill="none" stroke="#000" stroke-width="2.7"/>
<path d="M452 896.8 L424.3 893.5 L429.4 880.4Z" fill="#000" stroke="#000" stroke-width="0.6" stroke-linejoin="miter"/>
<circle cx="193.2" cy="795.5" r="40" fill="#fff" stroke="#000" stroke-width="2.7"/>
<text x="193.2" y="808.2" text-anchor="middle" font-size="35.5">3</text>
<path d="M137.6 910.4 L305.6 924.7" fill="none" stroke="#000" stroke-width="2.7"/>
<path d="M332.5 927 L305 931.7 L306.2 917.7Z" fill="#000" stroke="#000" stroke-width="0.6" stroke-linejoin="miter"/>
<circle cx="97.7" cy="907" r="40" fill="#fff" stroke="#000" stroke-width="2.7"/>
<text x="97.7" y="919.7" text-anchor="middle" font-size="35.5">16</text>
<path d="M1288.8 750.2 L1015.3 815.2" fill="none" stroke="#000" stroke-width="2.7"/>
<path d="M989 821.4 L1013.7 808.4 L1016.9 822Z" fill="#000" stroke="#000" stroke-width="0.6" stroke-linejoin="miter"/>
<circle cx="1327.7" cy="741" r="40" fill="#fff" stroke="#000" stroke-width="2.7"/>
<text x="1327.7" y="753.7" text-anchor="middle" font-size="35.5">15</text>
<path d="M1353.3 879.3 L1164.1 954.5" fill="none" stroke="#000" stroke-width="2.7"/>
<path d="M1139 964.5 L1161.5 948 L1166.7 961Z" fill="#000" stroke="#000" stroke-width="0.6" stroke-linejoin="miter"/>
<circle cx="1390.5" cy="864.5" r="40" fill="#fff" stroke="#000" stroke-width="2.7"/>
<text x="1390.5" y="877.2" text-anchor="middle" font-size="35.5">21</text>
<path d="M1490 1091.3 L1370.4 1255.2" fill="none" stroke="#000" stroke-width="2.7"/>
<path d="M1354.5 1277 L1364.8 1251.1 L1376.1 1259.3Z" fill="#000" stroke="#000" stroke-width="0.6" stroke-linejoin="miter"/>
<circle cx="1513.6" cy="1059" r="40" fill="#fff" stroke="#000" stroke-width="2.7"/>
<text x="1513.6" y="1071.7" text-anchor="middle" font-size="35.5">10</text>
<path d="M161.6 1195.9 L498.2 1251.2" fill="none" stroke="#000" stroke-width="2.7"/>
<path d="M524.8 1255.6 L497 1258.1 L499.3 1244.3Z" fill="#000" stroke="#000" stroke-width="0.6" stroke-linejoin="miter"/>
<circle cx="122.1" cy="1189.4" r="40" fill="#fff" stroke="#000" stroke-width="2.7"/>
<text x="122.1" y="1202.1" text-anchor="middle" font-size="35.5">11</text>
<path d="M205.9 1299.7 L485.7 1304.8" fill="none" stroke="#000" stroke-width="2.7"/>
<path d="M512.7 1305.3 L485.6 1311.8 L485.8 1297.8Z" fill="#000" stroke="#000" stroke-width="0.6" stroke-linejoin="miter"/>
<circle cx="165.9" cy="1299" r="40" fill="#fff" stroke="#000" stroke-width="2.7"/>
<text x="165.9" y="1311.7" text-anchor="middle" font-size="35.5">13</text>
<path d="M185.7 1403.6 L474 1349.3" fill="none" stroke="#000" stroke-width="2.7"/>
<path d="M500.5 1344.3 L475.3 1356.2 L472.7 1342.4Z" fill="#000" stroke="#000" stroke-width="0.6" stroke-linejoin="miter"/>
<circle cx="146.4" cy="1411" r="40" fill="#fff" stroke="#000" stroke-width="2.7"/>
<text x="146.4" y="1423.7" text-anchor="middle" font-size="35.5">13</text>
<path d="M313.9 1495.8 L427.9 1523.1" fill="none" stroke="#000" stroke-width="2.7"/>
<path d="M454.2 1529.4 L426.3 1529.9 L429.6 1516.3Z" fill="#000" stroke="#000" stroke-width="0.6" stroke-linejoin="miter"/>
<circle cx="275" cy="1486.5" r="40" fill="#fff" stroke="#000" stroke-width="2.7"/>
<text x="275" y="1499.2" text-anchor="middle" font-size="35.5">12</text>
<path d="M605.6 2237.6 L718.2 2251.7" fill="none" stroke="#000" stroke-width="2.7"/>
<path d="M745 2255 L717.3 2258.6 L719.1 2244.7Z" fill="#000" stroke="#000" stroke-width="0.6" stroke-linejoin="miter"/>
<circle cx="565.9" cy="2232.7" r="40" fill="#fff" stroke="#000" stroke-width="2.7"/>
<text x="565.9" y="2245.4" text-anchor="middle" font-size="35.5">20</text>
<path d="M532 2368.8 L437.9 2310" fill="none" stroke="#000" stroke-width="2.7"/>
<path d="M415 2295.7 L441.6 2304.1 L434.2 2315.9Z" fill="#000" stroke="#000" stroke-width="0.6" stroke-linejoin="miter"/>
<circle cx="565.9" cy="2390" r="40" fill="#fff" stroke="#000" stroke-width="2.7"/>
<text x="565.9" y="2402.7" text-anchor="middle" font-size="35.5">17</text>
<path d="M783.1 2481.6 L900.6 2444.4" fill="none" stroke="#000" stroke-width="2.7"/>
<path d="M926.3 2436.3 L902.7 2451.1 L898.4 2437.8Z" fill="#000" stroke="#000" stroke-width="0.6" stroke-linejoin="miter"/>
<circle cx="745" cy="2493.7" r="40" fill="#fff" stroke="#000" stroke-width="2.7"/>
<text x="745" y="2506.4" text-anchor="middle" font-size="35.5">9</text>
<path d="M1345.7 2537.5 L1407 2507.5" fill="none" stroke="#000" stroke-width="2.7"/>
<path d="M1431.3 2495.7 L1410.1 2513.8 L1404 2501.2Z" fill="#000" stroke="#000" stroke-width="0.6" stroke-linejoin="miter"/>
<circle cx="1309.7" cy="2555" r="40" fill="#fff" stroke="#000" stroke-width="2.7"/>
<text x="1309.7" y="2567.7" text-anchor="middle" font-size="35.5">7</text>
<path d="M1590.4 2232.2 L1545.3 2320.9" fill="none" stroke="#000" stroke-width="2.7"/>
<path d="M1533 2345 L1539 2317.8 L1551.5 2324.1Z" fill="#000" stroke="#000" stroke-width="0.6" stroke-linejoin="miter"/>
<circle cx="1608.6" cy="2196.6" r="40" fill="#fff" stroke="#000" stroke-width="2.7"/>
<text x="1608.6" y="2209.3" text-anchor="middle" font-size="35.5">8</text>
<path d="M330.3 559.3 L479 628 L681.6 648" fill="none" stroke="#000" stroke-width="2.6"/>
<path d="M681.6 648 L700.7 707.3" fill="none" stroke="#000" stroke-width="2.7"/>
<path d="M709 733 L694.1 709.4 L707.4 705.2Z" fill="#000" stroke="#000" stroke-width="0.6" stroke-linejoin="miter"/>
<path d="M479 628 L483 746" fill="none" stroke="#000" stroke-width="2.6"/>
<path d="M483 746 L584.3 803.6" fill="none" stroke="#000" stroke-width="2.7"/>
<path d="M607.8 817 L580.9 809.7 L587.8 797.6Z" fill="#000" stroke="#000" stroke-width="0.6" stroke-linejoin="miter"/>
<circle cx="294" cy="542.5" r="40" fill="#fff" stroke="#000" stroke-width="2.7"/>
<text x="294" y="555.2" text-anchor="middle" font-size="35.5">14</text>
</svg>
</body></html>
